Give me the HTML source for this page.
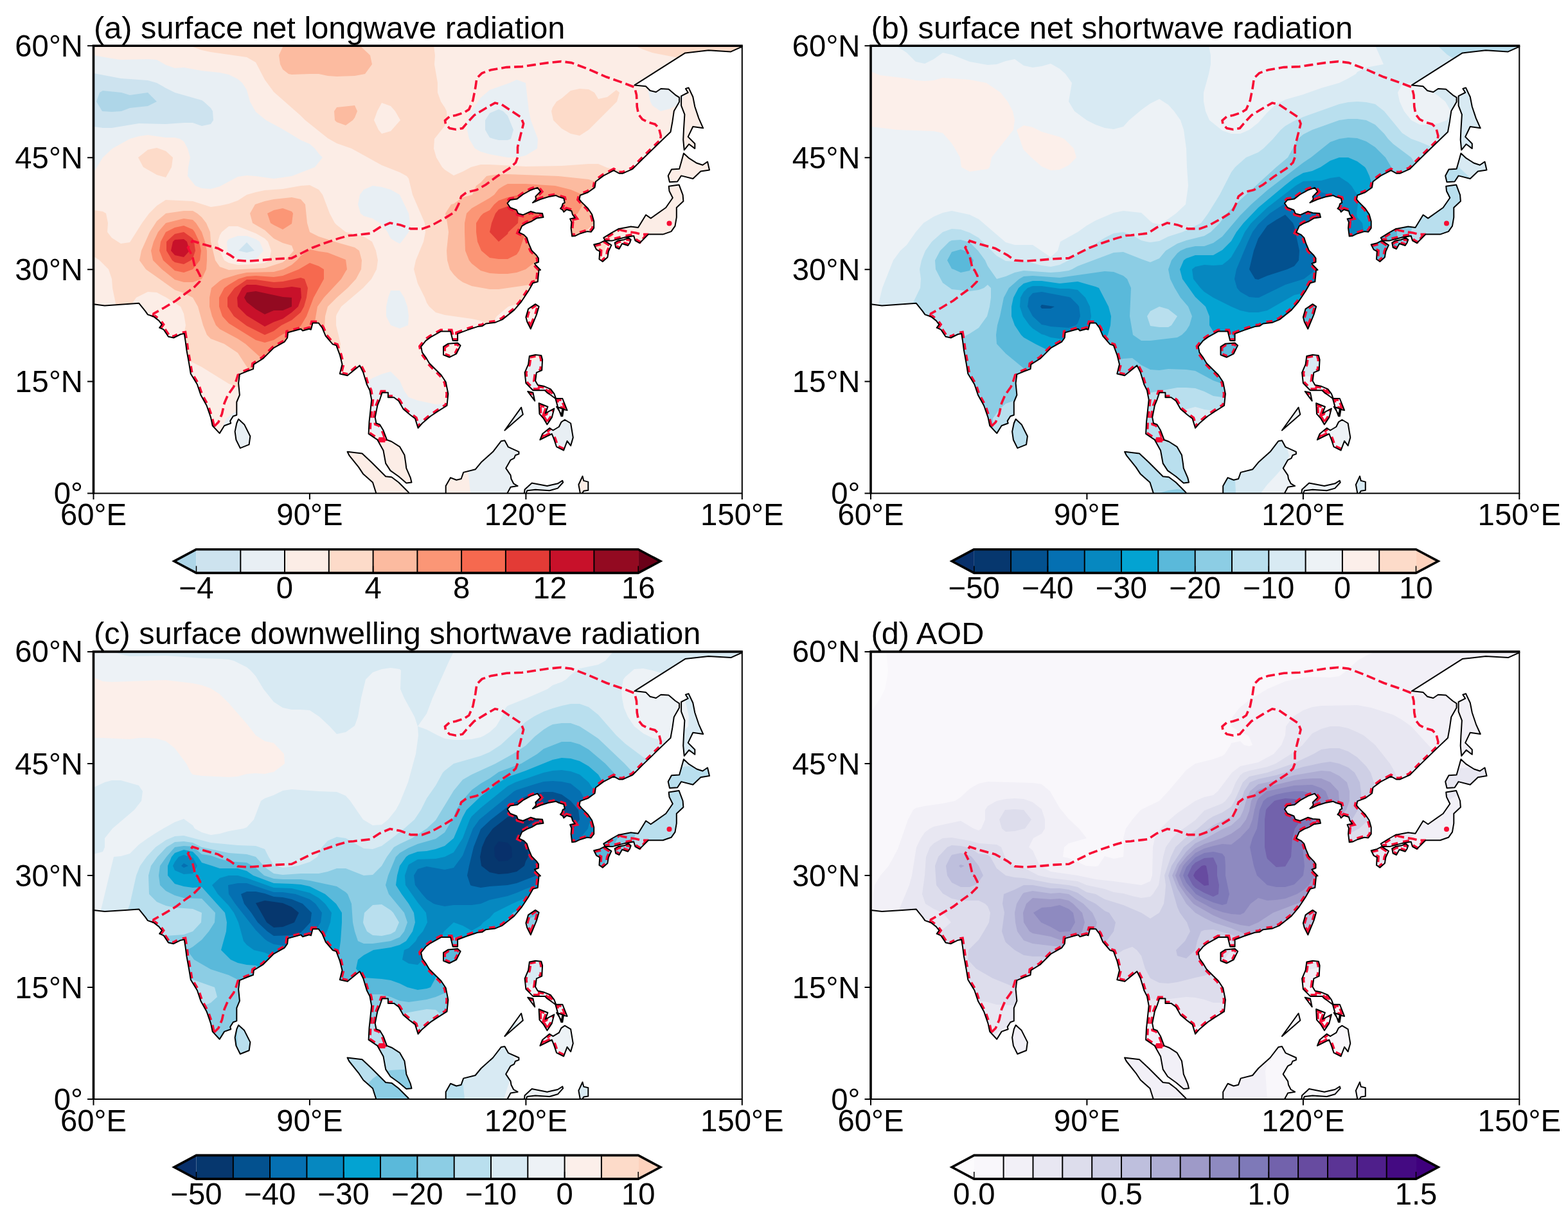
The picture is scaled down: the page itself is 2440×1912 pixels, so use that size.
<!DOCTYPE html>
<html><head><meta charset="utf-8"><title>Surface radiation and AOD maps</title>
<style>
html,body{margin:0;padding:0;background:#fff;width:2440px;height:1912px;overflow:hidden}
svg{display:block}
.tl{font-family:'Liberation Sans', Arial, Helvetica, sans-serif;font-size:47.3px;fill:#000}
.tt{font-family:'Liberation Sans', Arial, Helvetica, sans-serif;font-size:48.7px;fill:#000}
</style></head><body>
<svg xmlns="http://www.w3.org/2000/svg" width="2440" height="1912" viewBox="0 0 2440 1912">
<rect width="2440" height="1912" fill="#fff"/>
<clipPath id="fra"><rect x="145.5" y="71.2" width="1009.3" height="696.2"/></clipPath>
<clipPath id="lda"><path d="M145.5 473.2 L162.9 475.4 L195 473.2 L216.1 471.7 L226.2 484.2 L229.9 489.4 L239 492.5 L247.3 498.9 L251.9 504.8 L248.2 509.9 L254.6 512.7 L262 523.7 L270.2 525.5 L281.2 520 L286.7 519.1 L288.5 530.1 L290.4 544.8 L294.1 565 L296.8 581.5 L306.9 598 L312.4 614.5 L321.6 631 L328 649.4 L330.7 662.2 L341.7 674.1 L349.1 662.2 L359.2 658.5 L358.2 654.9 L362.8 647.5 L368.3 645.7 L368.3 625.5 L372.9 614.5 L371.1 596.1 L372.9 582.4 L383.9 577.8 L394 574.1 L394.9 566.8 L409.6 557.6 L426.1 541.1 L442.6 531.9 L447.2 525.5 L448.1 517.2 L468.3 511.7 L471 514.5 L481.1 511.7 L483.9 512.7 L486.6 502.6 L495.8 502.6 L501.3 509.9 L506.8 522.8 L517.8 535.6 L523.3 537.4 L528.8 552.1 L532.5 566.8 L528.8 581.5 L540.6 584.2 L559.8 568.6 L565.3 579.6 L570.8 598 L575.4 607.2 L578.2 621.8 L576.3 640.2 L574.5 656.7 L573.6 675 L587.3 684.2 L596.5 700.7 L600.2 720.9 L607.5 732.1 L620.4 741.3 L632.3 751.4 L640.5 750.5 L638.7 743.1 L632.3 728.4 L631.4 720.9 L629.5 708.1 L622.2 695.2 L609.4 687 L602 684.2 L596.5 669.5 L591 660.4 L585.5 658.5 L583.7 649.4 L587.3 631 L591 621.8 L594.7 610.8 L603.9 610.8 L603.9 618.2 L613 618.2 L620.4 623.7 L627.7 636.5 L638.7 645.7 L646 651.2 L650.6 665.9 L657 658.5 L669.9 647.5 L680.9 640.2 L695.5 631 L697.4 612.7 L693.7 594.3 L686.4 583.3 L679 576 L668 565 L662.5 555.8 L657 548.4 L655.2 539.3 L662.5 530.1 L669.9 524.6 L686.4 515.4 L701.1 515.4 L704.7 530.1 L712.1 530.1 L712.1 519.1 L726.7 513.6 L743.2 508.1 L750.6 507.2 L756.1 503.5 L770.7 501.7 L781.7 497.1 L800.1 482.4 L811.1 469.5 L822.1 453 L829.4 440.2 L836.8 438.3 L838.6 420 L841 419.9 L834.9 413.8 L831.9 410 L838 407.8 L838 401.7 L834.9 397.2 L827.4 389.6 L822.8 379 L819.8 369.9 L815.3 365.4 L807.7 361.6 L812.2 351.7 L819.8 347.2 L827.4 344.2 L834.9 339.6 L845.5 338.1 L844 332.1 L833.4 331.3 L825.9 329 L813.7 334.3 L806.2 332.1 L803.9 326.8 L794.1 323 L789.5 316.2 L794.1 310.9 L804.7 309.4 L813.7 302.5 L825.9 295.7 L836.4 291.9 L841 298 L833.4 305.6 L834.2 310.1 L828.9 315.4 L841 310.1 L853.1 306.3 L865.2 304.1 L869.7 306.3 L877.3 308.6 L878.8 315.4 L875.8 316.9 L874.3 321.5 L872 324.5 L875.8 326.8 L877.3 329.8 L881.8 326 L889.4 328.3 L890.9 333.6 L894.7 338.9 L887.1 340.4 L889.4 345.7 L888.6 354.8 L890.2 367.6 L895.4 366.9 L901.5 363.9 L913.6 360.1 L919.7 360.8 L924.2 354.8 L924.2 344.2 L921.2 333.6 L915.1 324.5 L904.5 313.9 L901.5 310.1 L902.8 303.7 L914.9 299.2 L925.5 291.6 L927 282.5 L939.1 273.4 L955 265.1 L963.3 269.7 L969.4 269.7 L984.5 262.8 L1001.1 246.2 L1026.9 221.2 L1043.5 205.3 L1046.5 188.7 L1048.8 172.8 L1057.1 158.4 L1057.1 151.6 L1051.1 147.8 L1040.5 138.7 L1028.4 138 L1020.8 143.3 L1011.7 141 L1004.9 134.2 L987.5 132.4 L1066.2 82.4 L1102.5 78.2 L1137.3 80.4 L1152.4 73.6 L1157 73.3 L1166 59.6 L134.3 59.6 L134.3 473.3Z M371.1 652.1 L380.2 660.4 L389.4 678.7 L387.6 691.6 L373.8 697.1 L367.4 684.2 L365.6 671.4 L368.3 658.5Z M690 539.3 L697.4 534.7 L712.1 533.4 L716.6 537.4 L710.2 550.3 L699.2 555.8 L690 552.1Z M818.4 493.4 L822.1 480.6 L833.1 473.2 L838.6 476.9 L834.9 489.7 L825.8 511.7 L820.3 500.7Z M823.9 553.9 L833.1 552.1 L842.3 553 L844.1 559.4 L843.2 576 L834.9 579.6 L833.1 592.5 L836.8 598.9 L845.9 600.7 L856.9 605.3 L862.4 612.7 L865.2 620 L875.3 620 L882.6 638.3 L875.3 636.5 L873.4 647.5 L867.9 632.8 L864.3 620 L856.9 614.5 L851.4 610.8 L847.8 607.2 L829.4 607.2 L823.9 601.7 L818.4 596.1 L816.6 579.6 L822.1 566.8Z M821.2 609 L829.4 610.8 L832.2 623.7Z M785.4 669.5 L811.1 633.8 L813.8 644.8Z M838.6 627.3 L852.4 632.8 L848.7 642.9 L862.4 635.6 L858.8 649.4 L851.4 660.4 L845.9 651.2 L839.5 643.9Z M866.1 632.8 L875.3 647.5 L877.1 636.5Z M840.4 684.2 L844.1 675 L855.1 665.9 L860.6 669.5 L869.8 664 L873.4 656.7 L878.9 653 L888.1 658.5 L891.8 680.6 L888.1 693.4 L882.6 686.1 L877.1 700.7 L866.1 695.2 L862.4 684.2 L858.8 675 L851.4 678.7Z M540.6 702.8 L563.5 705.5 L578.2 719.3 L600.2 741.3 L609.4 742.2 L620.4 750.5 L635.9 766.1 L635.9 767.9 L585.5 767.9 L580 750.5 L565.3 737.6 L558 726.6 L543.3 708.3Z M693.7 767.9 L693.7 756 L701.1 743.1 L710.2 746.8 L717.6 745 L721.2 734.9 L739.6 730.3 L748.7 719.3 L767.1 702.8 L779.9 686.2 L785.4 685.3 L790.9 695.4 L807.4 702.8 L807.4 706.4 L801.9 708.3 L800.1 712.8 L794.6 715.6 L787.2 728.4 L794.6 739.4 L795.5 745 L799.2 752.3 L805.6 756 L794.6 757.8 L789.1 767.9Z M815.7 767.9 L816.6 761.5 L827.6 751.4 L851.4 756 L867.9 752.3 L875.3 747.7 L876.2 750.5 L867.9 759.6 L855.1 763.3 L833.1 761.8 L820.3 763.3 L818.4 767.9Z M903 768.1 L900.4 754 L906.5 740.8 L908.3 747.9 L915.3 749.6 L915.3 762.8 L908.3 763.7 L905.7 768.1Z M1066.9 138 L1071.5 136.4 L1078.3 150.8 L1081.3 166 L1087.4 184.1 L1094.2 199.3 L1078.3 197 L1070.7 212.9 L1081.3 223.5 L1081.3 231.1 L1072.2 224.2 L1064.7 233.3 L1063.2 217.4 L1063.9 202.3 L1065.4 178.1 L1060.1 164.4 L1060.1 149.3 L1070.7 144Z M1063.9 238.6 L1072.2 246.2 L1084.3 253.8 L1093.4 256.8 L1101 251.5 L1104 264.4 L1090.4 266.6 L1078.3 278 L1060.1 273.4 L1054.1 282.5 L1042 283.3 L1039.7 273.4 L1045 263.6 L1057.1 262.8 L1060.1 252.2Z M1040.7 289.7 L1056.6 287.4 L1062.6 303.3 L1063.4 313.1 L1052.8 323 L1052.8 338.1 L1050.5 351.7 L1044.5 360.1 L1031.6 364.6 L1008.9 364.6 L995.3 378.2 L988.5 374.4 L986.2 366.9 L972.6 369.2 L952.9 374.4 L941.6 374.4 L939.3 369.9 L951.4 362.3 L962 356.3 L981.7 352.5 L993 354 L1005.1 334.3 L1012.7 339.6 L1036.2 323 L1046.8 307.8 L1041.5 297.2Z M924.2 380.5 L933.3 378.2 L940.8 374.4 L951.4 381.3 L946.9 391.1 L945.4 400.2 L937.8 407 L932.5 403.2 L933.3 391.1 L928 388.1Z M956.7 377.5 L962 374.4 L971.1 372.9 L977.9 369.9 L981.7 372.9 L980.2 377.5 L977.2 382 L968.1 379 L963.5 387.3 L958.2 385Z"/></clipPath>
<g clip-path="url(#fra)">
<g clip-path="url(#lda)" fill-rule="evenodd">
<rect x="145.5" y="71.2" width="1009.3" height="696.2" fill="#aed6e8"/>
<path fill="#cde3ef" d="M131 796l1052 0 0-754-1066 0 0 754 14 0zM159 173l-9-15 5-14 5-3 29 3 13 4 28-4 14 14-14 7-28 3-13 5-15 1-15-1z"/>
<path fill="#e8eff4" d="M131 796l1052 0 0-754-1066 0 0 72 29 0 42 8 42 3 14 4 14 8 14 7 42 12 3 2 11 10 3 5 1 14-4 6-14 3-14-5-14 0-28 2-42-1-42 7-14 0-14-2-29 0 0 599 14 0zM371 390l13-13 12 13-12 3-13-3zM768 216l-6-2-7-12 0-15 7-11 14-6 7 3 7 7 9 22-4 14-5 2-14 0-8-2z"/>
<path fill="#fcede6" d="M131 796l217 0 0-29 6-29-2-14-6-29-2-15 2-14 6-15 4-3 14-10 14-1 28 3 14 4 14-3 14 7 2 3 3 15-2 14-3 6-28 23-9 15-2 14 3 29 0 29 314 0 0-29-3-29-4-14-7-15-12-12-14-6-28-5-28 3-14 0-28-6-14-11-6-6-9-15-4-14 5-15 0-14 6-15 8-5 14-6 14-4 14 14 7 16 7 10 14 5 28 6 14-1 14-3 14-1 11-2 3-2 2-12 6-15 20-14 14-3 14 1 14-3 14-8 14-5 14-7 14 2 14 8 14 11 14 3 57 2 42 0 14 6 28 14 14 4 42 5 28 0 14 2 42 0 0-569-1066 0 0 44 29 0 28 5 14 2 42-1 14 1 14 8 14 5 14-1 28 5 28 3 14 3 14 7 7 6 7 11 5 18 9 16 16 13 26 14 28 17 14 6 8 7 6 8 6 6-12 15-36 14-28 4-28-4-14-1-14 2-28 15-14 4-14-1-10-4-12-15 1-14 3-15-4-14-6-11-6-4-8-2-14 0-28-4-14 2-14 4-27 15-15 14-14 23-29 0 0 528 14 0zM608 506l-7-14 0-15 3-14 4-11 14 0 7 11 5 14 2 15-1 14-13 5-14-5zM354 390l-1-14 3-4 14-5 14 0 14 5 6 4 6 14-12 14-14 0-14-1-14-10-2-3zM616 376l-8-5-5-10-9-12-14-9-14-4-5-4-4-14 3-15 6-8 14-6 14 2 14 4 14 8 14 29 2 15-2 14-11 15-3 3-6-3zM739 231l-9-15-3-14 0-15 6-14 11-15 4-6 14-12 14-5 17-6 11-5 14 5 5 44 3 14 11 29-1 15-18 11-14 3-14 0-28-5-14-4-9-5zM1028 173l-13-9-3-6-3-14-2-15 6-14 2-1 14-2 16 3 18 14 3 15-5 14-4 4-14 7-15 4zM902 796l281 0 0-120-28 0-14-2-28 2-14-1-14 2-14 0-14-2-28 3-28-2-14 0-28 3-14 4-14 7-15 14-17 34-4 15-1 43 8 0z"/>
<path fill="#fddbc9" d="M426 623l14-6 12-9 14-15 2-6 10-8 18-4 14 0 14-7 2-4 4-14 0-15-7-29 0-14 1-3 7-12 34-29 13-14 8-15 2-14-3-15-6-14-13-8-28-7-14-11-3-3-8-15-11-29-6-8-14-7-14 1-28 5-28 2-14 3-14 4-14 9-14 5-14 3-14 2-28-9-42-2-14 9-12 12-11 15-19 30-14 2-14-9-7-9 1-14-3-15-5-3-14-2-29 0 0 72 29 0 9 6 14 14 5 15 1 14 6 29 7 10 14-10 10-14 18-9 14 1 15 8 22 14 5 11 3 18-3 15-14 12-14 2-14 0-14-1-14-3-14 4 14 9 4 6 35 14 3 1 14-7 14-1 28 14 42 26 56 22 14 4zM349 405l-7-15-3-14 3-10 3-5 11-9 14 0 28 11 14 8 5 5 5 14-3 15-7 4-14 2-28 1-14-3-7-4zM945 538l14 0 20-3 18-14 0-15-10-11-14-10-14-7-5-1-9-6-14 6-11 29-1 15 12 14 14 3zM762 511l2-5 9-14 18-15 13-4 28-6 28-1 28 3 28 5 13-11 0-29 2-15 3-14 11-27 13-17 15-8 6-6 21-29 2-15-3-14-11-15-15-8-28-5-14-6-15 0-42 3-56 1-56-3-14 0-15 4-13 7-14 6-14-9-4-4-9-15-4-14 1-15 16-20 4-9-1-14-3-6-6-9-5-14 0-15-5-29 1-14-2-15 0-29-380 0 0 29 19 7 14 3 56 8 14 8 14 27 14 19 42 37 7 7 35 28 14 8 23 8 47 26 28 11 11 6 3 4 6 25 19 44 1 14-3 15-12 29-3 14 6 22 11 22 3 8 4 6 10 9 14 4 42 6 14 3 12 7 2 5zM589 202l-7-15 5-14 7-13 14 5 7 8 8 14-15 17-14 4-5-6zM258 276l9-16 2-15-11-10-14-5-5 1-9 2-15 12 8 15 21 12 14 4zM888 208l14 3 14-9 44-44 4-14-5-4-14 11-14 3-6-10-9-5-14-1-14 3-14 12-8 5-6 9-2 6 3 14 13 13 14 8zM1141 152l14 5 28 0 0-115-196 0 0 29 14 6 14 5 56 11 14-1 14-3 14 3 6 8 16 44 6 8z"/>
<path fill="#fcbba0" d="M412 600l14 3 16-10 1-29 11-7 28-2 15-5 7-15 2-43 4-15 14-14 17-15 13-14 8-15 1-14-4-15-7-5-28-8-28-9-14-7-4-14-3-29-7-8-14-3-28 3-14 3-15 5-8 14 4 15 19 11 14 13 14 7 14 4 3 8-13 15-4 3-28 9-56 3-14-5-7-10-7-29-1-15-6-14-7-9-7-6-7-4-14 0-28 4-14 12-11 17-13 29-3 15 10 14 31 22 14 10 14 5 14 7 8 14 8 29 6 15 6 6 21 8 21 14 28 43 14 8zM762 450l14 0 42-6 42-8 14-5 14-14 6-12 9-29 7-15 21-20 12-9 2-2 6-12-1-15-12-14-7-5-15-5-47-5-79-3-14 0-14 2-5 1-9 10-7 5-6 14-15 4-14 10-4 1-9 14 3 15 2 14-3 29 1 15 4 14 6 8 7 7 7 5 14 6 28 5zM524 190l14 5 11-8 3-4 4-10-4-9-28 3-4 6 1 14 3 3zM454 116l28-1 14 0 14 3 14 1 28-1 16-3 11-15-3-14-16-15 0-29-118 0 0 29-2 2-6 13 2 14 4 8 9 7 5 1z"/>
<path fill="#fb9676" d="M412 562l10-12 18-11 28-5 14-8 3-5 4-15 5-29 10-14 27-29 7-12 2-3-2-15-28-11-14-2-14-3-14 10-6 7-8 7-13 7-15 4-42 1-14 3-23 7-5 3-13 11-3 15 0 14 4 15 6 14 6 6 28 15 12 8 30 27zM272 435l14 4 14 0 14-5 7-15 1-14 0-15-3-14-5-15-9-14-5-5-14-2-28 7-12 14-7 15-4 14 3 15 14 14 20 16zM748 421l14 4 14 1 14 0 14-2 14-5 18-14 12-29 11-15 40-29 8-14 0-15-19-8-24-6-46-3-28 0-6 3-8 5-7 9-7 5-28 16-8 8-3 15 0 14 1 29 6 15 4 5 14 11zM426 350l14 7 14-9 2-16-2-3-14-5-14 3-10 5 5 15 5 3z"/>
<path fill="#f6694f" d="M398 529l14 4 14-4 14-9 14-5 14-8 9-15 11-29 16-29 0-15-8-5-14-5-17 10-25 10-14 2-28-2-14 1-13 4-15 9-7 5-8 15 0 14 5 15 10 11 42 26zM272 421l14 3 14-5 11-14 2-15-3-14-7-15-3-4-14-6-14 3-14 7-8 15-2 14 6 15 18 16zM762 401l14 2 14 0 14-7 4-6 10-29 14-21 7-8 7-14-14-12-14-3-14 1-14 3-14 5-7 6-7 9-10 5-4 4-7 11 0 14 2 15 6 14 13 11z"/>
<path fill="#e33b36" d="M412 521l14-6 12-9 16-8 14-12 5-9 4-14 2-15-5-14-6-2-28 6-14 1-28-4-14 0-19 13-9 12-2 3 0 14 10 15 20 15 28 14zM272 408l14 3 11-6 3-3 4-12-2-14-2-5-14-10-14 3-13 12 0 14 9 15 4 3zM776 376l14-12 1-3 15-14 1-15-3-6-14-5-14 5-5 6-6 15-3 14 14 15z"/>
<path fill="#c8112a" d="M412 508l14-7 14-5 14-10 10-9 5-14-1-15-14-2-14 2-14 0-28-5-14 0-7 5-8 15 1 14 14 14 28 17zM272 397l14 3 9-10-4-14-5-4-14 1-3 3-3 14 6 7z"/>
<path fill="#930a21" d="M398 481l14 8 14-6 14 0 14-6 0-14-14-1-42-9-14 2-4 8 4 7 14 11z"/>
</g>
<path d="M239 492.5 L238.1 491.6 L239 487.9 L255.5 478.7 L273.9 467.7 L288.5 456.7 L301.4 447.5 L310.6 438.3 L311.5 429.2 L306.9 420 L304.2 419.1 L299.5 399.2 L292.5 385.2 L299.5 374.7 L313.5 379.3 L339.3 386.4 L358 396.9 L369.7 405.1 L386 406.2 L411.7 404.4 L430.5 402.7 L453.8 401.6 L467.9 394.5 L486.6 385.2 L505.3 378.2 L526.3 371.1 L542.7 366.5 L550.3 366 L576.5 363 L590.6 353.9 L606.8 346.8 L622.9 349.9 L639.1 355.9 L657.2 355.9 L671.3 350.9 L691.5 339.8 L707.7 329.7 L713.7 317.6 L717.7 305.5 L725.8 299.4 L741.9 295.4 L756.1 287.3 L772.2 275.2 L792.4 262.1 L802.5 253 L805.5 244.9 L805.5 228.8 L810.5 208.6 L814.6 192.4 L810.5 182.3 L798.4 174.3 L780.3 162.2 L770.2 160.1 L756.1 168.2 L737.9 179.3 L725.8 192.4 L719.8 199.5 L709.7 201.5 L699.6 199.5 L693.5 193.4 L692.5 187.4 L699.6 181.3 L709.7 179.3 L721.8 175.3 L729.8 170.2 L735.9 156.1 L739.9 135.9 L741.9 121.8 L750 113.7 L764.1 108.7 L788.3 104.6 L812.6 103.6 L832.7 100.6 L852.9 97.6 L873.1 95.6 L889.2 97.6 L913.4 106.7 L943.7 119.8 L969.9 128.9 L987.5 135.7 L990.5 147.8 L991.3 166 L993.6 178.1 L999.6 185.6 L1008.7 190.2 L1019.3 193.2 L1025.3 199.3 L1028.4 211.4 L1026.9 221.2 M372.9 582.4 L370.2 583.3 L367.4 592.5 L363.7 601.7 L354.6 614.5 L349.1 627.3 L345.4 643.9 L339.9 656.7 L334.4 662.2 L330.7 662.2 M602 684.2 L587.3 684.2 M962 356.3 L968.1 358.6 L980.2 360.8 L989.3 362.3 L998.3 364.6 L1005.9 364.6 L995.3 378.2" fill="none" stroke="#f70c34" stroke-width="3.6" stroke-dasharray="14 6"/>
<path clip-path="url(#lda)" d="M1026.9 221.2 L1001.1 246.2 L984.5 262.8 L969.4 269.7 L963.3 269.7 L955 265.1 L939.1 273.4 L927 282.5 L925.5 291.6 L914.9 299.2 L902.8 303.7 L901.3 310.1 L904.5 313.9 L915.1 324.5 L921.2 333.6 L924.2 344.2 L924.2 354.8 L919.7 360.8 L913.6 360.1 L901.5 363.9 L895.4 366.9 L890.2 367.6 L888.6 354.8 L889.4 345.7 L887.1 340.4 L894.7 338.9 L890.9 333.6 L889.4 328.3 L881.8 326 L877.3 329.8 L875.8 326.8 L872 324.5 L874.3 321.5 L875.8 316.9 L878.8 315.4 L877.3 308.6 L869.7 306.3 L865.2 304.1 L853.1 306.3 L841 310.1 L828.9 315.4 L834.2 310.1 L833.4 305.6 L841 298 L836.4 291.9 L825.9 295.7 L813.7 302.5 L804.7 309.4 L794.1 310.9 L789.5 316.2 L794.1 323 L803.9 326.8 L806.2 332.1 L813.7 334.3 L825.9 329 L833.4 331.3 L844 332.1 L845.5 338.1 L834.9 339.6 L827.4 344.2 L819.8 347.2 L812.2 351.7 L807.7 361.6 L815.3 365.4 L819.8 369.9 L822.8 379 L827.4 389.6 L834.9 397.2 L838 401.7 L838 407.8 L831.9 410 L834.9 413.8 L841 419.9 L838.6 420 L836.8 438.3 L829.4 440.2 L822.1 453 L811.1 469.5 L800.1 482.4 L781.7 497.1 L770.7 501.7 L756.1 503.5 L750.6 507.2 L743.2 508.1 L726.7 513.6 L712.1 519.1 L712.1 530.1 L704.7 530.1 L701.1 515.4 L686.4 515.4 L669.9 524.6 L662.5 530.1 L655.2 539.3 L657 548.4 L662.5 555.8 L668 565 L679 576 L686.4 583.3 L693.7 594.3 L697.4 612.7 L695.5 631 L680.9 640.2 L669.9 647.5 L657 658.5 L650.6 665.9 L646 651.2 L638.7 645.7 L627.7 636.5 L620.4 623.7 L613 618.2 L603.9 618.2 L603.9 610.8 L594.7 610.8 L591 621.8 L587.3 631 L583.7 649.4 L585.5 658.5 L591 660.4 L596.5 669.5 L602 684.2 L587.3 684.2 L573.6 675 L574.5 656.7 L576.3 640.2 L578.2 621.8 L575.4 607.2 L570.8 598 L565.3 579.6 L559.8 568.6 L540.6 584.2 L528.8 581.5 L532.5 566.8 L528.8 552.1 L523.3 537.4 L517.8 535.6 L506.8 522.8 L501.3 509.9 L495.8 502.6 L486.6 502.6 L483.9 512.7 L481.1 511.7 L471 514.5 L468.3 511.7 L448.1 517.2 L447.2 525.5 L442.6 531.9 L426.1 541.1 L409.6 557.6 L394.9 566.8 L394 574.1 L383.9 577.8 L372.9 582.4 M330.7 662.2 L328 649.4 L321.6 631 L312.4 614.5 L306.9 598 L296.8 581.5 L294.1 565 L290.4 544.8 L288.5 530.1 L286.7 519.1 L281.2 520 L270.2 525.5 L262 523.7 L254.6 512.7 L248.2 509.9 L251.9 504.8 L247.3 498.9 L239 492.5 M995.3 378.2 L988.5 374.4 L986.2 366.9 L972.6 369.2 L952.9 374.4 L941.6 374.4 L939.3 369.9 L939.3 369.9 L951.4 362.3 L962 356.3 M924.2 380.5 L933.3 378.2 L940.8 374.4 L951.4 381.3 L946.9 391.1 L945.4 400.2 L937.8 407 L932.5 403.2 L933.3 391.1 L928 388.1Z M956.7 377.5 L962 374.4 L971.1 372.9 L977.9 369.9 L981.7 372.9 L980.2 377.5 L977.2 382 L968.1 379 L963.5 387.3 L958.2 385Z M690 539.3 L697.4 534.7 L712.1 533.4 L716.6 537.4 L710.2 550.3 L699.2 555.8 L690 552.1Z M818.4 493.4 L822.1 480.6 L833.1 473.2 L838.6 476.9 L834.9 489.7 L825.8 511.7 L820.3 500.7Z M823.9 553.9 L833.1 552.1 L842.3 553 L844.1 559.4 L843.2 576 L834.9 579.6 L833.1 592.5 L836.8 598.9 L845.9 600.7 L856.9 605.3 L862.4 612.7 L865.2 620 L875.3 620 L882.6 638.3 L875.3 636.5 L873.4 647.5 L867.9 632.8 L864.3 620 L856.9 614.5 L851.4 610.8 L847.8 607.2 L829.4 607.2 L823.9 601.7 L818.4 596.1 L816.6 579.6 L822.1 566.8Z M821.2 609 L829.4 610.8 L832.2 623.7Z M838.6 627.3 L852.4 632.8 L848.7 642.9 L862.4 635.6 L858.8 649.4 L851.4 660.4 L845.9 651.2 L839.5 643.9Z M877.1 700.7 L866.1 695.2 L862.4 684.2 L858.8 675 L851.4 678.7 L840.4 684.2 L844.1 675 L855.1 665.9" fill="none" stroke="#f70c34" stroke-width="8" stroke-dasharray="10 8"/>
<circle cx="1041.5" cy="347.4" r="4" fill="#f70c34"/>
<path d="M145.5 473.2 L162.9 475.4 L195 473.2 L216.1 471.7 L226.2 484.2 L229.9 489.4 L239 492.5 L247.3 498.9 L251.9 504.8 L248.2 509.9 L254.6 512.7 L262 523.7 L270.2 525.5 L281.2 520 L286.7 519.1 L288.5 530.1 L290.4 544.8 L294.1 565 L296.8 581.5 L306.9 598 L312.4 614.5 L321.6 631 L328 649.4 L330.7 662.2 L341.7 674.1 L349.1 662.2 L359.2 658.5 L358.2 654.9 L362.8 647.5 L368.3 645.7 L368.3 625.5 L372.9 614.5 L371.1 596.1 L372.9 582.4 L383.9 577.8 L394 574.1 L394.9 566.8 L409.6 557.6 L426.1 541.1 L442.6 531.9 L447.2 525.5 L448.1 517.2 L468.3 511.7 L471 514.5 L481.1 511.7 L483.9 512.7 L486.6 502.6 L495.8 502.6 L501.3 509.9 L506.8 522.8 L517.8 535.6 L523.3 537.4 L528.8 552.1 L532.5 566.8 L528.8 581.5 L540.6 584.2 L559.8 568.6 L565.3 579.6 L570.8 598 L575.4 607.2 L578.2 621.8 L576.3 640.2 L574.5 656.7 L573.6 675 L587.3 684.2 L596.5 700.7 L600.2 720.9 L607.5 732.1 L620.4 741.3 L632.3 751.4 L640.5 750.5 L638.7 743.1 L632.3 728.4 L631.4 720.9 L629.5 708.1 L622.2 695.2 L609.4 687 L602 684.2 L596.5 669.5 L591 660.4 L585.5 658.5 L583.7 649.4 L587.3 631 L591 621.8 L594.7 610.8 L603.9 610.8 L603.9 618.2 L613 618.2 L620.4 623.7 L627.7 636.5 L638.7 645.7 L646 651.2 L650.6 665.9 L657 658.5 L669.9 647.5 L680.9 640.2 L695.5 631 L697.4 612.7 L693.7 594.3 L686.4 583.3 L679 576 L668 565 L662.5 555.8 L657 548.4 L655.2 539.3 L662.5 530.1 L669.9 524.6 L686.4 515.4 L701.1 515.4 L704.7 530.1 L712.1 530.1 L712.1 519.1 L726.7 513.6 L743.2 508.1 L750.6 507.2 L756.1 503.5 L770.7 501.7 L781.7 497.1 L800.1 482.4 L811.1 469.5 L822.1 453 L829.4 440.2 L836.8 438.3 L838.6 420 L841 419.9 L834.9 413.8 L831.9 410 L838 407.8 L838 401.7 L834.9 397.2 L827.4 389.6 L822.8 379 L819.8 369.9 L815.3 365.4 L807.7 361.6 L812.2 351.7 L819.8 347.2 L827.4 344.2 L834.9 339.6 L845.5 338.1 L844 332.1 L833.4 331.3 L825.9 329 L813.7 334.3 L806.2 332.1 L803.9 326.8 L794.1 323 L789.5 316.2 L794.1 310.9 L804.7 309.4 L813.7 302.5 L825.9 295.7 L836.4 291.9 L841 298 L833.4 305.6 L834.2 310.1 L828.9 315.4 L841 310.1 L853.1 306.3 L865.2 304.1 L869.7 306.3 L877.3 308.6 L878.8 315.4 L875.8 316.9 L874.3 321.5 L872 324.5 L875.8 326.8 L877.3 329.8 L881.8 326 L889.4 328.3 L890.9 333.6 L894.7 338.9 L887.1 340.4 L889.4 345.7 L888.6 354.8 L890.2 367.6 L895.4 366.9 L901.5 363.9 L913.6 360.1 L919.7 360.8 L924.2 354.8 L924.2 344.2 L921.2 333.6 L915.1 324.5 L904.5 313.9 L901.5 310.1 L902.8 303.7 L914.9 299.2 L925.5 291.6 L927 282.5 L939.1 273.4 L955 265.1 L963.3 269.7 L969.4 269.7 L984.5 262.8 L1001.1 246.2 L1026.9 221.2 L1043.5 205.3 L1046.5 188.7 L1048.8 172.8 L1057.1 158.4 L1057.1 151.6 L1051.1 147.8 L1040.5 138.7 L1028.4 138 L1020.8 143.3 L1011.7 141 L1004.9 134.2 L987.5 132.4 L1066.2 82.4 L1102.5 78.2 L1137.3 80.4 L1152.4 73.6 L1157 73.3 M371.1 652.1 L380.2 660.4 L389.4 678.7 L387.6 691.6 L373.8 697.1 L367.4 684.2 L365.6 671.4 L368.3 658.5Z M690 539.3 L697.4 534.7 L712.1 533.4 L716.6 537.4 L710.2 550.3 L699.2 555.8 L690 552.1Z M818.4 493.4 L822.1 480.6 L833.1 473.2 L838.6 476.9 L834.9 489.7 L825.8 511.7 L820.3 500.7Z M823.9 553.9 L833.1 552.1 L842.3 553 L844.1 559.4 L843.2 576 L834.9 579.6 L833.1 592.5 L836.8 598.9 L845.9 600.7 L856.9 605.3 L862.4 612.7 L865.2 620 L875.3 620 L882.6 638.3 L875.3 636.5 L873.4 647.5 L867.9 632.8 L864.3 620 L856.9 614.5 L851.4 610.8 L847.8 607.2 L829.4 607.2 L823.9 601.7 L818.4 596.1 L816.6 579.6 L822.1 566.8Z M821.2 609 L829.4 610.8 L832.2 623.7Z M785.4 669.5 L811.1 633.8 L813.8 644.8Z M838.6 627.3 L852.4 632.8 L848.7 642.9 L862.4 635.6 L858.8 649.4 L851.4 660.4 L845.9 651.2 L839.5 643.9Z M866.1 632.8 L875.3 647.5 L877.1 636.5Z M840.4 684.2 L844.1 675 L855.1 665.9 L860.6 669.5 L869.8 664 L873.4 656.7 L878.9 653 L888.1 658.5 L891.8 680.6 L888.1 693.4 L882.6 686.1 L877.1 700.7 L866.1 695.2 L862.4 684.2 L858.8 675 L851.4 678.7Z M540.6 702.8 L563.5 705.5 L578.2 719.3 L600.2 741.3 L609.4 742.2 L620.4 750.5 L635.9 766.1 L635.9 767.9 L585.5 767.9 L580 750.5 L565.3 737.6 L558 726.6 L543.3 708.3Z M693.7 767.9 L693.7 756 L701.1 743.1 L710.2 746.8 L717.6 745 L721.2 734.9 L739.6 730.3 L748.7 719.3 L767.1 702.8 L779.9 686.2 L785.4 685.3 L790.9 695.4 L807.4 702.8 L807.4 706.4 L801.9 708.3 L800.1 712.8 L794.6 715.6 L787.2 728.4 L794.6 739.4 L795.5 745 L799.2 752.3 L805.6 756 L794.6 757.8 L789.1 767.9Z M815.7 767.9 L816.6 761.5 L827.6 751.4 L851.4 756 L867.9 752.3 L875.3 747.7 L876.2 750.5 L867.9 759.6 L855.1 763.3 L833.1 761.8 L820.3 763.3 L818.4 767.9Z M903 768.1 L900.4 754 L906.5 740.8 L908.3 747.9 L915.3 749.6 L915.3 762.8 L908.3 763.7 L905.7 768.1Z M1066.9 138 L1071.5 136.4 L1078.3 150.8 L1081.3 166 L1087.4 184.1 L1094.2 199.3 L1078.3 197 L1070.7 212.9 L1081.3 223.5 L1081.3 231.1 L1072.2 224.2 L1064.7 233.3 L1063.2 217.4 L1063.9 202.3 L1065.4 178.1 L1060.1 164.4 L1060.1 149.3 L1070.7 144Z M1063.9 238.6 L1072.2 246.2 L1084.3 253.8 L1093.4 256.8 L1101 251.5 L1104 264.4 L1090.4 266.6 L1078.3 278 L1060.1 273.4 L1054.1 282.5 L1042 283.3 L1039.7 273.4 L1045 263.6 L1057.1 262.8 L1060.1 252.2Z M1040.7 289.7 L1056.6 287.4 L1062.6 303.3 L1063.4 313.1 L1052.8 323 L1052.8 338.1 L1050.5 351.7 L1044.5 360.1 L1031.6 364.6 L1008.9 364.6 L995.3 378.2 L988.5 374.4 L986.2 366.9 L972.6 369.2 L952.9 374.4 L941.6 374.4 L939.3 369.9 L951.4 362.3 L962 356.3 L981.7 352.5 L993 354 L1005.1 334.3 L1012.7 339.6 L1036.2 323 L1046.8 307.8 L1041.5 297.2Z M924.2 380.5 L933.3 378.2 L940.8 374.4 L951.4 381.3 L946.9 391.1 L945.4 400.2 L937.8 407 L932.5 403.2 L933.3 391.1 L928 388.1Z M956.7 377.5 L962 374.4 L971.1 372.9 L977.9 369.9 L981.7 372.9 L980.2 377.5 L977.2 382 L968.1 379 L963.5 387.3 L958.2 385Z" fill="none" stroke="#000" stroke-width="2" stroke-linejoin="round"/>
</g>
<path d="M145.5 767.4H1154.8V71.2" fill="none" stroke="#000" stroke-width="2"/>
<path d="M145.5 768.4V71.2H1155.8" fill="none" stroke="#000" stroke-width="3.6"/>
<text x="129" y="87.7" text-anchor="end" class="tl">60°N</text>
<text x="129" y="261.8" text-anchor="end" class="tl">45°N</text>
<text x="129" y="435.8" text-anchor="end" class="tl">30°N</text>
<text x="129" y="609.9" text-anchor="end" class="tl">15°N</text>
<text x="129" y="783.9" text-anchor="end" class="tl">0°</text>
<text x="145.5" y="816.9" text-anchor="middle" class="tl">60°E</text>
<text x="481.9" y="816.9" text-anchor="middle" class="tl">90°E</text>
<text x="818.4" y="816.9" text-anchor="middle" class="tl">120°E</text>
<text x="1154.8" y="816.9" text-anchor="middle" class="tl">150°E</text>
<path d="M136 71.2H145.5 M136 245.2H145.5 M136 419.3H145.5 M136 593.4H145.5 M136 767.4H145.5 M145.5 767.4V776.9 M481.9 767.4V776.9 M818.4 767.4V776.9 M1154.8 767.4V776.9" stroke="#000" stroke-width="2"/>
<text x="146" y="59.5" class="tt">(a) surface net longwave radiation</text>
<clipPath id="frb"><rect x="1355" y="71.2" width="1009.3" height="696.2"/></clipPath>
<clipPath id="ldb"><path d="M1355 473.2 L1372.4 475.4 L1404.5 473.2 L1425.6 471.7 L1435.7 484.2 L1439.4 489.4 L1448.5 492.5 L1456.8 498.9 L1461.4 504.8 L1457.7 509.9 L1464.1 512.7 L1471.5 523.7 L1479.7 525.5 L1490.7 520 L1496.2 519.1 L1498 530.1 L1499.9 544.8 L1503.6 565 L1506.3 581.5 L1516.4 598 L1521.9 614.5 L1531.1 631 L1537.5 649.4 L1540.2 662.2 L1551.2 674.1 L1558.6 662.2 L1568.7 658.5 L1567.7 654.9 L1572.3 647.5 L1577.8 645.7 L1577.8 625.5 L1582.4 614.5 L1580.6 596.1 L1582.4 582.4 L1593.4 577.8 L1603.5 574.1 L1604.4 566.8 L1619.1 557.6 L1635.6 541.1 L1652.1 531.9 L1656.7 525.5 L1657.6 517.2 L1677.8 511.7 L1680.5 514.5 L1690.6 511.7 L1693.4 512.7 L1696.1 502.6 L1705.3 502.6 L1710.8 509.9 L1716.3 522.8 L1727.3 535.6 L1732.8 537.4 L1738.3 552.1 L1742 566.8 L1738.3 581.5 L1750.1 584.2 L1769.3 568.6 L1774.8 579.6 L1780.3 598 L1784.9 607.2 L1787.7 621.8 L1785.8 640.2 L1784 656.7 L1783.1 675 L1796.8 684.2 L1806 700.7 L1809.7 720.9 L1817 732.1 L1829.9 741.3 L1841.8 751.4 L1850 750.5 L1848.2 743.1 L1841.8 728.4 L1840.9 720.9 L1839 708.1 L1831.7 695.2 L1818.9 687 L1811.5 684.2 L1806 669.5 L1800.5 660.4 L1795 658.5 L1793.2 649.4 L1796.8 631 L1800.5 621.8 L1804.2 610.8 L1813.4 610.8 L1813.4 618.2 L1822.5 618.2 L1829.9 623.7 L1837.2 636.5 L1848.2 645.7 L1855.5 651.2 L1860.1 665.9 L1866.5 658.5 L1879.4 647.5 L1890.4 640.2 L1905 631 L1906.9 612.7 L1903.2 594.3 L1895.9 583.3 L1888.5 576 L1877.5 565 L1872 555.8 L1866.5 548.4 L1864.7 539.3 L1872 530.1 L1879.4 524.6 L1895.9 515.4 L1910.6 515.4 L1914.2 530.1 L1921.6 530.1 L1921.6 519.1 L1936.2 513.6 L1952.7 508.1 L1960.1 507.2 L1965.6 503.5 L1980.2 501.7 L1991.2 497.1 L2009.6 482.4 L2020.6 469.5 L2031.6 453 L2038.9 440.2 L2046.3 438.3 L2048.1 420 L2050.5 419.9 L2044.4 413.8 L2041.4 410 L2047.5 407.8 L2047.5 401.7 L2044.4 397.2 L2036.9 389.6 L2032.3 379 L2029.3 369.9 L2024.8 365.4 L2017.2 361.6 L2021.7 351.7 L2029.3 347.2 L2036.9 344.2 L2044.4 339.6 L2055 338.1 L2053.5 332.1 L2042.9 331.3 L2035.4 329 L2023.2 334.3 L2015.7 332.1 L2013.4 326.8 L2003.6 323 L1999 316.2 L2003.6 310.9 L2014.2 309.4 L2023.2 302.5 L2035.4 295.7 L2045.9 291.9 L2050.5 298 L2042.9 305.6 L2043.7 310.1 L2038.4 315.4 L2050.5 310.1 L2062.6 306.3 L2074.7 304.1 L2079.2 306.3 L2086.8 308.6 L2088.3 315.4 L2085.3 316.9 L2083.8 321.5 L2081.5 324.5 L2085.3 326.8 L2086.8 329.8 L2091.3 326 L2098.9 328.3 L2100.4 333.6 L2104.2 338.9 L2096.6 340.4 L2098.9 345.7 L2098.1 354.8 L2099.7 367.6 L2104.9 366.9 L2111 363.9 L2123.1 360.1 L2129.2 360.8 L2133.7 354.8 L2133.7 344.2 L2130.7 333.6 L2124.6 324.5 L2114 313.9 L2111 310.1 L2112.3 303.7 L2124.4 299.2 L2135 291.6 L2136.5 282.5 L2148.6 273.4 L2164.5 265.1 L2172.8 269.7 L2178.9 269.7 L2194 262.8 L2210.6 246.2 L2236.4 221.2 L2253 205.3 L2256 188.7 L2258.3 172.8 L2266.6 158.4 L2266.6 151.6 L2260.6 147.8 L2250 138.7 L2237.9 138 L2230.3 143.3 L2221.2 141 L2214.4 134.2 L2197 132.4 L2275.7 82.4 L2312 78.2 L2346.8 80.4 L2361.9 73.6 L2366.5 73.3 L2375.5 59.6 L1343.8 59.6 L1343.8 473.3Z M1580.6 652.1 L1589.7 660.4 L1598.9 678.7 L1597.1 691.6 L1583.3 697.1 L1576.9 684.2 L1575.1 671.4 L1577.8 658.5Z M1899.5 539.3 L1906.9 534.7 L1921.6 533.4 L1926.1 537.4 L1919.7 550.3 L1908.7 555.8 L1899.5 552.1Z M2027.9 493.4 L2031.6 480.6 L2042.6 473.2 L2048.1 476.9 L2044.4 489.7 L2035.3 511.7 L2029.8 500.7Z M2033.4 553.9 L2042.6 552.1 L2051.8 553 L2053.6 559.4 L2052.7 576 L2044.4 579.6 L2042.6 592.5 L2046.3 598.9 L2055.4 600.7 L2066.4 605.3 L2071.9 612.7 L2074.7 620 L2084.8 620 L2092.1 638.3 L2084.8 636.5 L2082.9 647.5 L2077.4 632.8 L2073.8 620 L2066.4 614.5 L2060.9 610.8 L2057.3 607.2 L2038.9 607.2 L2033.4 601.7 L2027.9 596.1 L2026.1 579.6 L2031.6 566.8Z M2030.7 609 L2038.9 610.8 L2041.7 623.7Z M1994.9 669.5 L2020.6 633.8 L2023.3 644.8Z M2048.1 627.3 L2061.9 632.8 L2058.2 642.9 L2071.9 635.6 L2068.3 649.4 L2060.9 660.4 L2055.4 651.2 L2049 643.9Z M2075.6 632.8 L2084.8 647.5 L2086.6 636.5Z M2049.9 684.2 L2053.6 675 L2064.6 665.9 L2070.1 669.5 L2079.3 664 L2082.9 656.7 L2088.4 653 L2097.6 658.5 L2101.3 680.6 L2097.6 693.4 L2092.1 686.1 L2086.6 700.7 L2075.6 695.2 L2071.9 684.2 L2068.3 675 L2060.9 678.7Z M1750.1 702.8 L1773 705.5 L1787.7 719.3 L1809.7 741.3 L1818.9 742.2 L1829.9 750.5 L1845.4 766.1 L1845.4 767.9 L1795 767.9 L1789.5 750.5 L1774.8 737.6 L1767.5 726.6 L1752.8 708.3Z M1903.2 767.9 L1903.2 756 L1910.6 743.1 L1919.7 746.8 L1927.1 745 L1930.7 734.9 L1949.1 730.3 L1958.2 719.3 L1976.6 702.8 L1989.4 686.2 L1994.9 685.3 L2000.4 695.4 L2016.9 702.8 L2016.9 706.4 L2011.4 708.3 L2009.6 712.8 L2004.1 715.6 L1996.7 728.4 L2004.1 739.4 L2005 745 L2008.7 752.3 L2015.1 756 L2004.1 757.8 L1998.6 767.9Z M2025.2 767.9 L2026.1 761.5 L2037.1 751.4 L2060.9 756 L2077.4 752.3 L2084.8 747.7 L2085.7 750.5 L2077.4 759.6 L2064.6 763.3 L2042.6 761.8 L2029.8 763.3 L2027.9 767.9Z M2112.5 768.1 L2109.9 754 L2116 740.8 L2117.8 747.9 L2124.8 749.6 L2124.8 762.8 L2117.8 763.7 L2115.2 768.1Z M2276.4 138 L2281 136.4 L2287.8 150.8 L2290.8 166 L2296.9 184.1 L2303.7 199.3 L2287.8 197 L2280.2 212.9 L2290.8 223.5 L2290.8 231.1 L2281.7 224.2 L2274.2 233.3 L2272.7 217.4 L2273.4 202.3 L2274.9 178.1 L2269.6 164.4 L2269.6 149.3 L2280.2 144Z M2273.4 238.6 L2281.7 246.2 L2293.8 253.8 L2302.9 256.8 L2310.5 251.5 L2313.5 264.4 L2299.9 266.6 L2287.8 278 L2269.6 273.4 L2263.6 282.5 L2251.5 283.3 L2249.2 273.4 L2254.5 263.6 L2266.6 262.8 L2269.6 252.2Z M2250.2 289.7 L2266.1 287.4 L2272.1 303.3 L2272.9 313.1 L2262.3 323 L2262.3 338.1 L2260 351.7 L2254 360.1 L2241.1 364.6 L2218.4 364.6 L2204.8 378.2 L2198 374.4 L2195.7 366.9 L2182.1 369.2 L2162.4 374.4 L2151.1 374.4 L2148.8 369.9 L2160.9 362.3 L2171.5 356.3 L2191.2 352.5 L2202.5 354 L2214.6 334.3 L2222.2 339.6 L2245.7 323 L2256.3 307.8 L2251 297.2Z M2133.7 380.5 L2142.8 378.2 L2150.3 374.4 L2160.9 381.3 L2156.4 391.1 L2154.9 400.2 L2147.3 407 L2142 403.2 L2142.8 391.1 L2137.5 388.1Z M2166.2 377.5 L2171.5 374.4 L2180.6 372.9 L2187.4 369.9 L2191.2 372.9 L2189.7 377.5 L2186.7 382 L2177.6 379 L2173 387.3 L2167.7 385Z"/></clipPath>
<g clip-path="url(#frb)">
<g clip-path="url(#ldb)" fill-rule="evenodd">
<rect x="1355" y="71.2" width="1009.3" height="696.2" fill="#08306b"/>
<path fill="#06376e" d="M1341 796l1051 0 0-754-1065 0 0 754 14 0z"/>
<path fill="#03518f" d="M1341 796l1051 0 0-754-1065 0 0 754 14 0z"/>
<path fill="#0570b2" d="M1341 796l1051 0 0-754-1065 0 0 754 14 0zM1619 477l2-3 20 3-6 3-14 0-2-3zM1953 434l-9-15 7-29 7-19 14-20 14-9 14-8 12 13 2 5 8 38-1 15-7 9-11 5-31 10-14 6-5-1z"/>
<path fill="#0688c0" d="M1341 796l1051 0 0-754-1065 0 0 754 14 0zM1627 506l-6-1-14-13-8-15 2-14 6-7 14-2 42 8 3 1 11 11 2 3 2 15-4 11-3 3-11 4-28-2-8-2zM1954 463l-10-1-14-8-5-6-4-14 3-15 18-43 7-15 9-12 18-17 38-25 14-8 14-1 14 1 15 4 10 15-5 14-6 9-14 14-4 6 2 15 1 14-3 15-6 14-4 5-13 10-29 9-41 20-5 0z"/>
<path fill="#03a3d2" d="M1341 796l1051 0 0-754-1065 0 0 754 14 0zM1625 521l-4-1-14-9-5-5-10-14-5-15 1-14 5-9 6-6 8-3 14 0 28 4 14 0 14 2 12 12 7 14 2 15-3 14-9 15-9 5-14 2-14-1-14-2-10-4zM1916 477l-28-14-14-9-6-6-11-14-2-15 5-4 14-3 14 1 14-1 9-7 5-5 14-24 7-15 10-14 25-24 44-34 12-7 28-1 14-4 14-2 14 9 5 5 9 14 1 15-2 14 1 6 8 9 2 14-24 8-6 7-6 14-7 29-6 15-11 14-6 5-28 3-14 3-42 24-14 3-14 0-14-3-14-6z"/>
<path fill="#5ab9da" d="M1341 796l1051 0 0-754-1065 0 0 754 14 0zM1887 564l1-3 1 3-2 0zM1873 550l1-1 2 1-3 0zM1931 550l-5-15-8-14-2-2-14-4-14 1-6-10 0-14-6-15-16-15-20-28-4-15 6-14 4-3 14-5 28 0 14-8 14-14 8-14 11-14 23-24 42-35 14-11 14-8 14-3 13-6 15-10 14-5 14 0 14 6 12 9 2 3 5 11 9 29 15 29 2 15-3 15-4 14-10 6-22 8-6 6-8 23-6 25-6 19-8 14-14 4-28-5-14 1-26 15-12 14-4 15 0 15-22 14-20 10-13-10zM1611 535l-18-10-4-4-10-15-5-14 0-15 3-14 8-15 8-7 14-4 14 0 28 4 28-3 28 8 5 2 15 29 4 15-1 14-4 15-5 6-8 8-20 9-14 3-14 1-14-2-14 1-24-12z"/>
<path fill="#8ccde4" d="M1341 796l1051 0 0-754-1065 0 0 754 14 0zM1623 608l-2 0-14-9-5-6-4-14-5-6-11-9-17-14-14-15-1-14 2-15 4-14 6-29 8-15 16-14 7-4 14-1 42 3 56-8 14-2 14 1 15 6 6 5 6 14-2 44 5 29 13 9 14 0 42-5 7-4 7-7 5-8 4-14-6-15-12-14-9-15-7-14-3-15 5-14 9-11 5-4 9-4 14-3 14 0 14-5 14-10 28-33 17-17 25-22 56-43 12-8 30-24 14-5 14-2 14 1 14 5 14 9 16 16 9 15 4 14 4 15 0 14 4 15 1 14-4 29 0 29-6 8-14 3-14 5-12 13-5 15-2 14-1 29-9 15-13 11-14 6-28-7-14-1-14 4-17 16-7 14-18 15-14 7-56 38-14 2-14-5-28-15-14-2-28-1-14 2-14-1-14-7-14-11-14 1-43 7-28 6-10 8-4 14-14 10-14 6-12-1zM1484 419l-3-1-7-13 7-13 14-4 6 2 8 6 6 9-6 16-14 3-11-5z"/>
<path fill="#b9dfee" d="M1551 796l253 0 0-29 14-4 14-2 14 2 14 4 0 29 532 0 0-754-1065 0 0 585 28 0 14-12 8-7 34-40 14-7 14-11 14-9 14-6 28-9 14-7 14-9 13-18 4-15 2-14 0-15-5-5-6 5-8 3-14 2-28-3-14-10-11-21-1-14 8-15 14-14 4-2 14-1 14 4 13 13 11 15 4 9 14 20 14-4 14-6 14-3 42 3 14-1 14-2 5-2 9-5 56-21 15-1 28 11 14 5 14-6 10-12 18-11 14-5 28-7 10-6 14-14 11-15 21-21 56-51 18-15 16-29 8-7 14-7 42-15 14-2 14 0 14 2 14 7 14 14 6 8 8 8 28 21 10 15 4 14 0 29-3 15-9 29-2 14 2 15 12 29-1 43 3 15 4 14 5 15 4 14-2 15-8 14-19 12-9 3-5 1-28 0-14-1-42-14-28-7-14-2-14 0-14 6-3 2-22 15-48 29-17 14-6 15-2 3-14 5-14 2-14-2-14-7-14-5-14-1-14 0-42 8-14 1-14 7-3 3 2 15-13 14-15 3-14 1-14 0-14-4-4-14 4-15-14-3-14 3-14 7-14 4-28-2-28-8-14 5-10 9-10 14 1 44 3 29-3 29 1 43 4 0zM1705 617l14-6 4-3-4-3-14-4-9 7 9 9zM1790 507l14 2 14 0 5-3 9-14-14-11-14-4-14 7-5 8 5 15z"/>
<path fill="#d8eaf3" d="M1930 796l462 0 0-261-28 0-42 5-14-5-8-14 0-15 12-43 2-15-2-14-4-15-2-14 0-29 2-15-1-14-13-11-14-3-18 14-10 14-1 15 1 43-2 44 2 14 11 29 0 15-11 14-14 11-6 4-33 14-17 4-42-1-28-7-28-5-28-6-14 3-14 4-28 7-28 15-14 10-6 5-5 15-1 14-2 5-14 6-14 4-14 2-14 0-14-2-14-4-15 4-18 14-5 15 3 14 7 7 14 2 28 2 28 10 14 8 5 15 2 43 0 29 7 0zM1691 740l14 2 43-17 1-1-1-15-15-3-42 3-10 15 10 16zM1341 590l14 0 10-11 10-15 17-29 19-44 21-43 1-14-2-15 3-14 6-15 10-14 17-15 14-5 14 1 14 5 14 8 28 28 14 8 14 1 14-1 28 7 14 2 14-3 14-7 14-11 14-6 28-18 14-7 15-2 14 5 14 8 8 2 6 1 14-2 14-7 22-7 29-14 11-15 18-29 18-35 6-8 17-15 19-8 8-6 15-15 12-14 7-6 14-8 14-6 56-20 14-3 14-1 14 1 14 3 14 11 28 34 14 9 14 5 14 6 28 18 18 15 15 14 13 15 10 14 5 15 0 14-1 15 10 4 14 2 28 8 28 0 0-209-28 0-14-2-9-6-33-25-28-16-28-18-15-14 0-29-910 0 0 548 14 0zM2364 477l28 0 0-58-28 0-5 15-3 14 2 15 6 14z"/>
<path fill="#edf2f6" d="M1972 796l135 0 0-29 2-14 3-11 14-28 14-17 14-8 14-4 14-4 14-1 28 3 28-3 28-2 28 2 14-2 14-1 14 2 42-1 0-70-42 1-56-3-14-2-14-2-14-4-11-5-31-9-56 2-14 0-14-3-56-1-14 3-14 1-14-1-14-3-14-1-14 3-18 9-8 15 2 14 4 15 6 14 22 29 8 15 4 14-7 15-12 14-15 16-10 13 0 29 10 0zM1341 549l14 0 6-14 3-14 2-15 0-29 7-29 17-43 11-15 10-9 14-20 12-14 16-10 14-6 14-3 28 6 14 7 42 36 14 4 28 0 28 19 11-10 4-14 27-15 14-10 14-8 28-12 15-3 28 3 14 13 4 3 10 2 5-2 21-15 15-14 4-29-2-29-1-29-4-29-5-15-10-14-9-10-14-9-14 7-14 10-19 16-9 10-15 4-14-2-14-5-14-7-19-14-9-15 5-29-10-14-9-8-14-8-14 4-14 2-14-3-14-10-14 3-14 5-14 1-28-5-28-11-14-3-14 10-14 7-14-3-14-14-17-11 0-29-67 0 0 507 14 0zM1902 203l14 5 14 0 14-6 14-11 14-16 14-13 14-7 28-8 28-10 28-8 14-7 12-7 2-3 14-7 27-5-13-29 0-29-259 0 0 29 3 15 0 14-3 15-8 29 0 14 3 15 6 14 20 16zM2210 194l14 0 14-2 14-5 6-14-9-15-11-9-14-9-14-6-14-5-14 2-7 13 3 14 7 15 11 14 14 7z"/>
<path fill="#fcefea" d="M1509 267l28-4 3-3 3-15 34-43 2-15-3-14-8-15-11-14-22-15-26-5-28-2-14-1-14 4-14 1-14-1-14-3-42-5-14-6-28 0 0 86 28 0 42 5 56 2 14 3 14 16 5 8 8 14 2 15 13 7zM1635 265l14-1 14-7 12-12-4-14-15-15-7-3-28-8-14-7-14-3-11 7 10 29 1 2 12 12 16 14 14 6z"/>
</g>
<path d="M1448.5 492.5 L1447.6 491.6 L1448.5 487.9 L1465 478.7 L1483.4 467.7 L1498 456.7 L1510.9 447.5 L1520.1 438.3 L1521 429.2 L1516.4 420 L1513.7 419.1 L1509 399.2 L1502 385.2 L1509 374.7 L1523 379.3 L1548.8 386.4 L1567.5 396.9 L1579.2 405.1 L1595.5 406.2 L1621.2 404.4 L1640 402.7 L1663.3 401.6 L1677.4 394.5 L1696.1 385.2 L1714.8 378.2 L1735.8 371.1 L1752.2 366.5 L1759.8 366 L1786 363 L1800.1 353.9 L1816.3 346.8 L1832.4 349.9 L1848.6 355.9 L1866.7 355.9 L1880.8 350.9 L1901 339.8 L1917.2 329.7 L1923.2 317.6 L1927.2 305.5 L1935.3 299.4 L1951.4 295.4 L1965.6 287.3 L1981.7 275.2 L2001.9 262.1 L2012 253 L2015 244.9 L2015 228.8 L2020 208.6 L2024.1 192.4 L2020 182.3 L2007.9 174.3 L1989.8 162.2 L1979.7 160.1 L1965.6 168.2 L1947.4 179.3 L1935.3 192.4 L1929.3 199.5 L1919.2 201.5 L1909.1 199.5 L1903 193.4 L1902 187.4 L1909.1 181.3 L1919.2 179.3 L1931.3 175.3 L1939.3 170.2 L1945.4 156.1 L1949.4 135.9 L1951.4 121.8 L1959.5 113.7 L1973.6 108.7 L1997.8 104.6 L2022.1 103.6 L2042.2 100.6 L2062.4 97.6 L2082.6 95.6 L2098.7 97.6 L2122.9 106.7 L2153.2 119.8 L2179.4 128.9 L2197 135.7 L2200 147.8 L2200.8 166 L2203.1 178.1 L2209.1 185.6 L2218.2 190.2 L2228.8 193.2 L2234.8 199.3 L2237.9 211.4 L2236.4 221.2 M1582.4 582.4 L1579.7 583.3 L1576.9 592.5 L1573.2 601.7 L1564.1 614.5 L1558.6 627.3 L1554.9 643.9 L1549.4 656.7 L1543.9 662.2 L1540.2 662.2 M1811.5 684.2 L1796.8 684.2 M2171.5 356.3 L2177.6 358.6 L2189.7 360.8 L2198.8 362.3 L2207.8 364.6 L2215.4 364.6 L2204.8 378.2" fill="none" stroke="#f70c34" stroke-width="3.6" stroke-dasharray="14 6"/>
<path clip-path="url(#ldb)" d="M2236.4 221.2 L2210.6 246.2 L2194 262.8 L2178.9 269.7 L2172.8 269.7 L2164.5 265.1 L2148.6 273.4 L2136.5 282.5 L2135 291.6 L2124.4 299.2 L2112.3 303.7 L2110.8 310.1 L2114 313.9 L2124.6 324.5 L2130.7 333.6 L2133.7 344.2 L2133.7 354.8 L2129.2 360.8 L2123.1 360.1 L2111 363.9 L2104.9 366.9 L2099.7 367.6 L2098.1 354.8 L2098.9 345.7 L2096.6 340.4 L2104.2 338.9 L2100.4 333.6 L2098.9 328.3 L2091.3 326 L2086.8 329.8 L2085.3 326.8 L2081.5 324.5 L2083.8 321.5 L2085.3 316.9 L2088.3 315.4 L2086.8 308.6 L2079.2 306.3 L2074.7 304.1 L2062.6 306.3 L2050.5 310.1 L2038.4 315.4 L2043.7 310.1 L2042.9 305.6 L2050.5 298 L2045.9 291.9 L2035.4 295.7 L2023.2 302.5 L2014.2 309.4 L2003.6 310.9 L1999 316.2 L2003.6 323 L2013.4 326.8 L2015.7 332.1 L2023.2 334.3 L2035.4 329 L2042.9 331.3 L2053.5 332.1 L2055 338.1 L2044.4 339.6 L2036.9 344.2 L2029.3 347.2 L2021.7 351.7 L2017.2 361.6 L2024.8 365.4 L2029.3 369.9 L2032.3 379 L2036.9 389.6 L2044.4 397.2 L2047.5 401.7 L2047.5 407.8 L2041.4 410 L2044.4 413.8 L2050.5 419.9 L2048.1 420 L2046.3 438.3 L2038.9 440.2 L2031.6 453 L2020.6 469.5 L2009.6 482.4 L1991.2 497.1 L1980.2 501.7 L1965.6 503.5 L1960.1 507.2 L1952.7 508.1 L1936.2 513.6 L1921.6 519.1 L1921.6 530.1 L1914.2 530.1 L1910.6 515.4 L1895.9 515.4 L1879.4 524.6 L1872 530.1 L1864.7 539.3 L1866.5 548.4 L1872 555.8 L1877.5 565 L1888.5 576 L1895.9 583.3 L1903.2 594.3 L1906.9 612.7 L1905 631 L1890.4 640.2 L1879.4 647.5 L1866.5 658.5 L1860.1 665.9 L1855.5 651.2 L1848.2 645.7 L1837.2 636.5 L1829.9 623.7 L1822.5 618.2 L1813.4 618.2 L1813.4 610.8 L1804.2 610.8 L1800.5 621.8 L1796.8 631 L1793.2 649.4 L1795 658.5 L1800.5 660.4 L1806 669.5 L1811.5 684.2 L1796.8 684.2 L1783.1 675 L1784 656.7 L1785.8 640.2 L1787.7 621.8 L1784.9 607.2 L1780.3 598 L1774.8 579.6 L1769.3 568.6 L1750.1 584.2 L1738.3 581.5 L1742 566.8 L1738.3 552.1 L1732.8 537.4 L1727.3 535.6 L1716.3 522.8 L1710.8 509.9 L1705.3 502.6 L1696.1 502.6 L1693.4 512.7 L1690.6 511.7 L1680.5 514.5 L1677.8 511.7 L1657.6 517.2 L1656.7 525.5 L1652.1 531.9 L1635.6 541.1 L1619.1 557.6 L1604.4 566.8 L1603.5 574.1 L1593.4 577.8 L1582.4 582.4 M1540.2 662.2 L1537.5 649.4 L1531.1 631 L1521.9 614.5 L1516.4 598 L1506.3 581.5 L1503.6 565 L1499.9 544.8 L1498 530.1 L1496.2 519.1 L1490.7 520 L1479.7 525.5 L1471.5 523.7 L1464.1 512.7 L1457.7 509.9 L1461.4 504.8 L1456.8 498.9 L1448.5 492.5 M2204.8 378.2 L2198 374.4 L2195.7 366.9 L2182.1 369.2 L2162.4 374.4 L2151.1 374.4 L2148.8 369.9 L2148.8 369.9 L2160.9 362.3 L2171.5 356.3 M2133.7 380.5 L2142.8 378.2 L2150.3 374.4 L2160.9 381.3 L2156.4 391.1 L2154.9 400.2 L2147.3 407 L2142 403.2 L2142.8 391.1 L2137.5 388.1Z M2166.2 377.5 L2171.5 374.4 L2180.6 372.9 L2187.4 369.9 L2191.2 372.9 L2189.7 377.5 L2186.7 382 L2177.6 379 L2173 387.3 L2167.7 385Z M1899.5 539.3 L1906.9 534.7 L1921.6 533.4 L1926.1 537.4 L1919.7 550.3 L1908.7 555.8 L1899.5 552.1Z M2027.9 493.4 L2031.6 480.6 L2042.6 473.2 L2048.1 476.9 L2044.4 489.7 L2035.3 511.7 L2029.8 500.7Z M2033.4 553.9 L2042.6 552.1 L2051.8 553 L2053.6 559.4 L2052.7 576 L2044.4 579.6 L2042.6 592.5 L2046.3 598.9 L2055.4 600.7 L2066.4 605.3 L2071.9 612.7 L2074.7 620 L2084.8 620 L2092.1 638.3 L2084.8 636.5 L2082.9 647.5 L2077.4 632.8 L2073.8 620 L2066.4 614.5 L2060.9 610.8 L2057.3 607.2 L2038.9 607.2 L2033.4 601.7 L2027.9 596.1 L2026.1 579.6 L2031.6 566.8Z M2030.7 609 L2038.9 610.8 L2041.7 623.7Z M2048.1 627.3 L2061.9 632.8 L2058.2 642.9 L2071.9 635.6 L2068.3 649.4 L2060.9 660.4 L2055.4 651.2 L2049 643.9Z M2086.6 700.7 L2075.6 695.2 L2071.9 684.2 L2068.3 675 L2060.9 678.7 L2049.9 684.2 L2053.6 675 L2064.6 665.9" fill="none" stroke="#f70c34" stroke-width="8" stroke-dasharray="10 8"/>
<circle cx="2251" cy="347.4" r="4" fill="#f70c34"/>
<path d="M1355 473.2 L1372.4 475.4 L1404.5 473.2 L1425.6 471.7 L1435.7 484.2 L1439.4 489.4 L1448.5 492.5 L1456.8 498.9 L1461.4 504.8 L1457.7 509.9 L1464.1 512.7 L1471.5 523.7 L1479.7 525.5 L1490.7 520 L1496.2 519.1 L1498 530.1 L1499.9 544.8 L1503.6 565 L1506.3 581.5 L1516.4 598 L1521.9 614.5 L1531.1 631 L1537.5 649.4 L1540.2 662.2 L1551.2 674.1 L1558.6 662.2 L1568.7 658.5 L1567.7 654.9 L1572.3 647.5 L1577.8 645.7 L1577.8 625.5 L1582.4 614.5 L1580.6 596.1 L1582.4 582.4 L1593.4 577.8 L1603.5 574.1 L1604.4 566.8 L1619.1 557.6 L1635.6 541.1 L1652.1 531.9 L1656.7 525.5 L1657.6 517.2 L1677.8 511.7 L1680.5 514.5 L1690.6 511.7 L1693.4 512.7 L1696.1 502.6 L1705.3 502.6 L1710.8 509.9 L1716.3 522.8 L1727.3 535.6 L1732.8 537.4 L1738.3 552.1 L1742 566.8 L1738.3 581.5 L1750.1 584.2 L1769.3 568.6 L1774.8 579.6 L1780.3 598 L1784.9 607.2 L1787.7 621.8 L1785.8 640.2 L1784 656.7 L1783.1 675 L1796.8 684.2 L1806 700.7 L1809.7 720.9 L1817 732.1 L1829.9 741.3 L1841.8 751.4 L1850 750.5 L1848.2 743.1 L1841.8 728.4 L1840.9 720.9 L1839 708.1 L1831.7 695.2 L1818.9 687 L1811.5 684.2 L1806 669.5 L1800.5 660.4 L1795 658.5 L1793.2 649.4 L1796.8 631 L1800.5 621.8 L1804.2 610.8 L1813.4 610.8 L1813.4 618.2 L1822.5 618.2 L1829.9 623.7 L1837.2 636.5 L1848.2 645.7 L1855.5 651.2 L1860.1 665.9 L1866.5 658.5 L1879.4 647.5 L1890.4 640.2 L1905 631 L1906.9 612.7 L1903.2 594.3 L1895.9 583.3 L1888.5 576 L1877.5 565 L1872 555.8 L1866.5 548.4 L1864.7 539.3 L1872 530.1 L1879.4 524.6 L1895.9 515.4 L1910.6 515.4 L1914.2 530.1 L1921.6 530.1 L1921.6 519.1 L1936.2 513.6 L1952.7 508.1 L1960.1 507.2 L1965.6 503.5 L1980.2 501.7 L1991.2 497.1 L2009.6 482.4 L2020.6 469.5 L2031.6 453 L2038.9 440.2 L2046.3 438.3 L2048.1 420 L2050.5 419.9 L2044.4 413.8 L2041.4 410 L2047.5 407.8 L2047.5 401.7 L2044.4 397.2 L2036.9 389.6 L2032.3 379 L2029.3 369.9 L2024.8 365.4 L2017.2 361.6 L2021.7 351.7 L2029.3 347.2 L2036.9 344.2 L2044.4 339.6 L2055 338.1 L2053.5 332.1 L2042.9 331.3 L2035.4 329 L2023.2 334.3 L2015.7 332.1 L2013.4 326.8 L2003.6 323 L1999 316.2 L2003.6 310.9 L2014.2 309.4 L2023.2 302.5 L2035.4 295.7 L2045.9 291.9 L2050.5 298 L2042.9 305.6 L2043.7 310.1 L2038.4 315.4 L2050.5 310.1 L2062.6 306.3 L2074.7 304.1 L2079.2 306.3 L2086.8 308.6 L2088.3 315.4 L2085.3 316.9 L2083.8 321.5 L2081.5 324.5 L2085.3 326.8 L2086.8 329.8 L2091.3 326 L2098.9 328.3 L2100.4 333.6 L2104.2 338.9 L2096.6 340.4 L2098.9 345.7 L2098.1 354.8 L2099.7 367.6 L2104.9 366.9 L2111 363.9 L2123.1 360.1 L2129.2 360.8 L2133.7 354.8 L2133.7 344.2 L2130.7 333.6 L2124.6 324.5 L2114 313.9 L2111 310.1 L2112.3 303.7 L2124.4 299.2 L2135 291.6 L2136.5 282.5 L2148.6 273.4 L2164.5 265.1 L2172.8 269.7 L2178.9 269.7 L2194 262.8 L2210.6 246.2 L2236.4 221.2 L2253 205.3 L2256 188.7 L2258.3 172.8 L2266.6 158.4 L2266.6 151.6 L2260.6 147.8 L2250 138.7 L2237.9 138 L2230.3 143.3 L2221.2 141 L2214.4 134.2 L2197 132.4 L2275.7 82.4 L2312 78.2 L2346.8 80.4 L2361.9 73.6 L2366.5 73.3 M1580.6 652.1 L1589.7 660.4 L1598.9 678.7 L1597.1 691.6 L1583.3 697.1 L1576.9 684.2 L1575.1 671.4 L1577.8 658.5Z M1899.5 539.3 L1906.9 534.7 L1921.6 533.4 L1926.1 537.4 L1919.7 550.3 L1908.7 555.8 L1899.5 552.1Z M2027.9 493.4 L2031.6 480.6 L2042.6 473.2 L2048.1 476.9 L2044.4 489.7 L2035.3 511.7 L2029.8 500.7Z M2033.4 553.9 L2042.6 552.1 L2051.8 553 L2053.6 559.4 L2052.7 576 L2044.4 579.6 L2042.6 592.5 L2046.3 598.9 L2055.4 600.7 L2066.4 605.3 L2071.9 612.7 L2074.7 620 L2084.8 620 L2092.1 638.3 L2084.8 636.5 L2082.9 647.5 L2077.4 632.8 L2073.8 620 L2066.4 614.5 L2060.9 610.8 L2057.3 607.2 L2038.9 607.2 L2033.4 601.7 L2027.9 596.1 L2026.1 579.6 L2031.6 566.8Z M2030.7 609 L2038.9 610.8 L2041.7 623.7Z M1994.9 669.5 L2020.6 633.8 L2023.3 644.8Z M2048.1 627.3 L2061.9 632.8 L2058.2 642.9 L2071.9 635.6 L2068.3 649.4 L2060.9 660.4 L2055.4 651.2 L2049 643.9Z M2075.6 632.8 L2084.8 647.5 L2086.6 636.5Z M2049.9 684.2 L2053.6 675 L2064.6 665.9 L2070.1 669.5 L2079.3 664 L2082.9 656.7 L2088.4 653 L2097.6 658.5 L2101.3 680.6 L2097.6 693.4 L2092.1 686.1 L2086.6 700.7 L2075.6 695.2 L2071.9 684.2 L2068.3 675 L2060.9 678.7Z M1750.1 702.8 L1773 705.5 L1787.7 719.3 L1809.7 741.3 L1818.9 742.2 L1829.9 750.5 L1845.4 766.1 L1845.4 767.9 L1795 767.9 L1789.5 750.5 L1774.8 737.6 L1767.5 726.6 L1752.8 708.3Z M1903.2 767.9 L1903.2 756 L1910.6 743.1 L1919.7 746.8 L1927.1 745 L1930.7 734.9 L1949.1 730.3 L1958.2 719.3 L1976.6 702.8 L1989.4 686.2 L1994.9 685.3 L2000.4 695.4 L2016.9 702.8 L2016.9 706.4 L2011.4 708.3 L2009.6 712.8 L2004.1 715.6 L1996.7 728.4 L2004.1 739.4 L2005 745 L2008.7 752.3 L2015.1 756 L2004.1 757.8 L1998.6 767.9Z M2025.2 767.9 L2026.1 761.5 L2037.1 751.4 L2060.9 756 L2077.4 752.3 L2084.8 747.7 L2085.7 750.5 L2077.4 759.6 L2064.6 763.3 L2042.6 761.8 L2029.8 763.3 L2027.9 767.9Z M2112.5 768.1 L2109.9 754 L2116 740.8 L2117.8 747.9 L2124.8 749.6 L2124.8 762.8 L2117.8 763.7 L2115.2 768.1Z M2276.4 138 L2281 136.4 L2287.8 150.8 L2290.8 166 L2296.9 184.1 L2303.7 199.3 L2287.8 197 L2280.2 212.9 L2290.8 223.5 L2290.8 231.1 L2281.7 224.2 L2274.2 233.3 L2272.7 217.4 L2273.4 202.3 L2274.9 178.1 L2269.6 164.4 L2269.6 149.3 L2280.2 144Z M2273.4 238.6 L2281.7 246.2 L2293.8 253.8 L2302.9 256.8 L2310.5 251.5 L2313.5 264.4 L2299.9 266.6 L2287.8 278 L2269.6 273.4 L2263.6 282.5 L2251.5 283.3 L2249.2 273.4 L2254.5 263.6 L2266.6 262.8 L2269.6 252.2Z M2250.2 289.7 L2266.1 287.4 L2272.1 303.3 L2272.9 313.1 L2262.3 323 L2262.3 338.1 L2260 351.7 L2254 360.1 L2241.1 364.6 L2218.4 364.6 L2204.8 378.2 L2198 374.4 L2195.7 366.9 L2182.1 369.2 L2162.4 374.4 L2151.1 374.4 L2148.8 369.9 L2160.9 362.3 L2171.5 356.3 L2191.2 352.5 L2202.5 354 L2214.6 334.3 L2222.2 339.6 L2245.7 323 L2256.3 307.8 L2251 297.2Z M2133.7 380.5 L2142.8 378.2 L2150.3 374.4 L2160.9 381.3 L2156.4 391.1 L2154.9 400.2 L2147.3 407 L2142 403.2 L2142.8 391.1 L2137.5 388.1Z M2166.2 377.5 L2171.5 374.4 L2180.6 372.9 L2187.4 369.9 L2191.2 372.9 L2189.7 377.5 L2186.7 382 L2177.6 379 L2173 387.3 L2167.7 385Z" fill="none" stroke="#000" stroke-width="2" stroke-linejoin="round"/>
</g>
<path d="M1355 767.4H2364.3V71.2" fill="none" stroke="#000" stroke-width="2"/>
<path d="M1355 768.4V71.2H2365.3" fill="none" stroke="#000" stroke-width="3.6"/>
<text x="1338.5" y="87.7" text-anchor="end" class="tl">60°N</text>
<text x="1338.5" y="261.8" text-anchor="end" class="tl">45°N</text>
<text x="1338.5" y="435.8" text-anchor="end" class="tl">30°N</text>
<text x="1338.5" y="609.9" text-anchor="end" class="tl">15°N</text>
<text x="1338.5" y="783.9" text-anchor="end" class="tl">0°</text>
<text x="1355" y="816.9" text-anchor="middle" class="tl">60°E</text>
<text x="1691.4" y="816.9" text-anchor="middle" class="tl">90°E</text>
<text x="2027.9" y="816.9" text-anchor="middle" class="tl">120°E</text>
<text x="2364.3" y="816.9" text-anchor="middle" class="tl">150°E</text>
<path d="M1345.5 71.2H1355 M1345.5 245.2H1355 M1345.5 419.3H1355 M1345.5 593.4H1355 M1345.5 767.4H1355 M1355 767.4V776.9 M1691.4 767.4V776.9 M2027.9 767.4V776.9 M2364.3 767.4V776.9" stroke="#000" stroke-width="2"/>
<text x="1355.5" y="59.5" class="tt">(b) surface net shortwave radiation</text>
<clipPath id="frc"><rect x="145.5" y="1013.9" width="1009.3" height="696.2"/></clipPath>
<clipPath id="ldc"><path d="M145.5 1415.9 L162.9 1418.1 L195 1415.9 L216.1 1414.4 L226.2 1426.9 L229.9 1432.1 L239 1435.2 L247.3 1441.6 L251.9 1447.5 L248.2 1452.6 L254.6 1455.4 L262 1466.4 L270.2 1468.2 L281.2 1462.7 L286.7 1461.8 L288.5 1472.8 L290.4 1487.5 L294.1 1507.7 L296.8 1524.2 L306.9 1540.7 L312.4 1557.2 L321.6 1573.7 L328 1592.1 L330.7 1604.9 L341.7 1616.8 L349.1 1604.9 L359.2 1601.2 L358.2 1597.6 L362.8 1590.2 L368.3 1588.4 L368.3 1568.2 L372.9 1557.2 L371.1 1538.8 L372.9 1525.1 L383.9 1520.5 L394 1516.8 L394.9 1509.5 L409.6 1500.3 L426.1 1483.8 L442.6 1474.6 L447.2 1468.2 L448.1 1459.9 L468.3 1454.4 L471 1457.2 L481.1 1454.4 L483.9 1455.4 L486.6 1445.3 L495.8 1445.3 L501.3 1452.6 L506.8 1465.5 L517.8 1478.3 L523.3 1480.1 L528.8 1494.8 L532.5 1509.5 L528.8 1524.2 L540.6 1526.9 L559.8 1511.3 L565.3 1522.3 L570.8 1540.7 L575.4 1549.9 L578.2 1564.5 L576.3 1582.9 L574.5 1599.4 L573.6 1617.7 L587.3 1626.9 L596.5 1643.4 L600.2 1663.6 L607.5 1674.8 L620.4 1684 L632.3 1694.1 L640.5 1693.2 L638.7 1685.8 L632.3 1671.1 L631.4 1663.6 L629.5 1650.8 L622.2 1637.9 L609.4 1629.7 L602 1626.9 L596.5 1612.2 L591 1603.1 L585.5 1601.2 L583.7 1592.1 L587.3 1573.7 L591 1564.5 L594.7 1553.5 L603.9 1553.5 L603.9 1560.9 L613 1560.9 L620.4 1566.4 L627.7 1579.2 L638.7 1588.4 L646 1593.9 L650.6 1608.6 L657 1601.2 L669.9 1590.2 L680.9 1582.9 L695.5 1573.7 L697.4 1555.4 L693.7 1537 L686.4 1526 L679 1518.7 L668 1507.7 L662.5 1498.5 L657 1491.1 L655.2 1482 L662.5 1472.8 L669.9 1467.3 L686.4 1458.1 L701.1 1458.1 L704.7 1472.8 L712.1 1472.8 L712.1 1461.8 L726.7 1456.3 L743.2 1450.8 L750.6 1449.9 L756.1 1446.2 L770.7 1444.4 L781.7 1439.8 L800.1 1425.1 L811.1 1412.2 L822.1 1395.7 L829.4 1382.9 L836.8 1381 L838.6 1362.7 L841 1362.6 L834.9 1356.5 L831.9 1352.7 L838 1350.5 L838 1344.4 L834.9 1339.9 L827.4 1332.3 L822.8 1321.7 L819.8 1312.6 L815.3 1308.1 L807.7 1304.3 L812.2 1294.4 L819.8 1289.9 L827.4 1286.9 L834.9 1282.3 L845.5 1280.8 L844 1274.8 L833.4 1274 L825.9 1271.7 L813.7 1277 L806.2 1274.8 L803.9 1269.5 L794.1 1265.7 L789.5 1258.9 L794.1 1253.6 L804.7 1252.1 L813.7 1245.2 L825.9 1238.4 L836.4 1234.6 L841 1240.7 L833.4 1248.3 L834.2 1252.8 L828.9 1258.1 L841 1252.8 L853.1 1249 L865.2 1246.8 L869.7 1249 L877.3 1251.3 L878.8 1258.1 L875.8 1259.6 L874.3 1264.2 L872 1267.2 L875.8 1269.5 L877.3 1272.5 L881.8 1268.7 L889.4 1271 L890.9 1276.3 L894.7 1281.6 L887.1 1283.1 L889.4 1288.4 L888.6 1297.5 L890.2 1310.3 L895.4 1309.6 L901.5 1306.6 L913.6 1302.8 L919.7 1303.5 L924.2 1297.5 L924.2 1286.9 L921.2 1276.3 L915.1 1267.2 L904.5 1256.6 L901.5 1252.8 L902.8 1246.4 L914.9 1241.9 L925.5 1234.3 L927 1225.2 L939.1 1216.1 L955 1207.8 L963.3 1212.4 L969.4 1212.4 L984.5 1205.5 L1001.1 1188.9 L1026.9 1163.9 L1043.5 1148 L1046.5 1131.4 L1048.8 1115.5 L1057.1 1101.1 L1057.1 1094.3 L1051.1 1090.5 L1040.5 1081.4 L1028.4 1080.7 L1020.8 1086 L1011.7 1083.7 L1004.9 1076.9 L987.5 1075.1 L1066.2 1025.1 L1102.5 1020.9 L1137.3 1023.1 L1152.4 1016.3 L1157 1016 L1166 1002.3 L134.3 1002.3 L134.3 1416Z M371.1 1594.8 L380.2 1603.1 L389.4 1621.4 L387.6 1634.3 L373.8 1639.8 L367.4 1626.9 L365.6 1614.1 L368.3 1601.2Z M690 1482 L697.4 1477.4 L712.1 1476.1 L716.6 1480.1 L710.2 1493 L699.2 1498.5 L690 1494.8Z M818.4 1436.1 L822.1 1423.3 L833.1 1415.9 L838.6 1419.6 L834.9 1432.4 L825.8 1454.4 L820.3 1443.4Z M823.9 1496.6 L833.1 1494.8 L842.3 1495.7 L844.1 1502.1 L843.2 1518.7 L834.9 1522.3 L833.1 1535.2 L836.8 1541.6 L845.9 1543.4 L856.9 1548 L862.4 1555.4 L865.2 1562.7 L875.3 1562.7 L882.6 1581 L875.3 1579.2 L873.4 1590.2 L867.9 1575.5 L864.3 1562.7 L856.9 1557.2 L851.4 1553.5 L847.8 1549.9 L829.4 1549.9 L823.9 1544.4 L818.4 1538.8 L816.6 1522.3 L822.1 1509.5Z M821.2 1551.7 L829.4 1553.5 L832.2 1566.4Z M785.4 1612.2 L811.1 1576.5 L813.8 1587.5Z M838.6 1570 L852.4 1575.5 L848.7 1585.6 L862.4 1578.3 L858.8 1592.1 L851.4 1603.1 L845.9 1593.9 L839.5 1586.6Z M866.1 1575.5 L875.3 1590.2 L877.1 1579.2Z M840.4 1626.9 L844.1 1617.7 L855.1 1608.6 L860.6 1612.2 L869.8 1606.7 L873.4 1599.4 L878.9 1595.7 L888.1 1601.2 L891.8 1623.3 L888.1 1636.1 L882.6 1628.8 L877.1 1643.4 L866.1 1637.9 L862.4 1626.9 L858.8 1617.7 L851.4 1621.4Z M540.6 1645.5 L563.5 1648.2 L578.2 1662 L600.2 1684 L609.4 1684.9 L620.4 1693.2 L635.9 1708.8 L635.9 1710.6 L585.5 1710.6 L580 1693.2 L565.3 1680.3 L558 1669.3 L543.3 1651Z M693.7 1710.6 L693.7 1698.7 L701.1 1685.8 L710.2 1689.5 L717.6 1687.7 L721.2 1677.6 L739.6 1673 L748.7 1662 L767.1 1645.5 L779.9 1628.9 L785.4 1628 L790.9 1638.1 L807.4 1645.5 L807.4 1649.1 L801.9 1651 L800.1 1655.5 L794.6 1658.3 L787.2 1671.1 L794.6 1682.1 L795.5 1687.7 L799.2 1695 L805.6 1698.7 L794.6 1700.5 L789.1 1710.6Z M815.7 1710.6 L816.6 1704.2 L827.6 1694.1 L851.4 1698.7 L867.9 1695 L875.3 1690.4 L876.2 1693.2 L867.9 1702.3 L855.1 1706 L833.1 1704.5 L820.3 1706 L818.4 1710.6Z M903 1710.8 L900.4 1696.7 L906.5 1683.5 L908.3 1690.6 L915.3 1692.3 L915.3 1705.5 L908.3 1706.4 L905.7 1710.8Z M1066.9 1080.7 L1071.5 1079.1 L1078.3 1093.5 L1081.3 1108.7 L1087.4 1126.8 L1094.2 1142 L1078.3 1139.7 L1070.7 1155.6 L1081.3 1166.2 L1081.3 1173.8 L1072.2 1166.9 L1064.7 1176 L1063.2 1160.1 L1063.9 1145 L1065.4 1120.8 L1060.1 1107.1 L1060.1 1092 L1070.7 1086.7Z M1063.9 1181.3 L1072.2 1188.9 L1084.3 1196.5 L1093.4 1199.5 L1101 1194.2 L1104 1207.1 L1090.4 1209.3 L1078.3 1220.7 L1060.1 1216.1 L1054.1 1225.2 L1042 1226 L1039.7 1216.1 L1045 1206.3 L1057.1 1205.5 L1060.1 1194.9Z M1040.7 1232.4 L1056.6 1230.1 L1062.6 1246 L1063.4 1255.8 L1052.8 1265.7 L1052.8 1280.8 L1050.5 1294.4 L1044.5 1302.8 L1031.6 1307.3 L1008.9 1307.3 L995.3 1320.9 L988.5 1317.1 L986.2 1309.6 L972.6 1311.9 L952.9 1317.1 L941.6 1317.1 L939.3 1312.6 L951.4 1305 L962 1299 L981.7 1295.2 L993 1296.7 L1005.1 1277 L1012.7 1282.3 L1036.2 1265.7 L1046.8 1250.5 L1041.5 1239.9Z M924.2 1323.2 L933.3 1320.9 L940.8 1317.1 L951.4 1324 L946.9 1333.8 L945.4 1342.9 L937.8 1349.7 L932.5 1345.9 L933.3 1333.8 L928 1330.8Z M956.7 1320.2 L962 1317.1 L971.1 1315.6 L977.9 1312.6 L981.7 1315.6 L980.2 1320.2 L977.2 1324.7 L968.1 1321.7 L963.5 1330 L958.2 1327.7Z"/></clipPath>
<g clip-path="url(#frc)">
<g clip-path="url(#ldc)" fill-rule="evenodd">
<rect x="145.5" y="1013.9" width="1009.3" height="696.2" fill="#08306b"/>
<path fill="#06376e" d="M131 1739l1052 0 0-754-1066 0 0 754 14 0zM770 1333l-1-15 7-9 14 2 6 7 1 15-7 6-14 1-6-7z"/>
<path fill="#03518f" d="M131 1739l1052 0 0-754-1066 0 0 754 14 0zM415 1435l-17-30 14-4 28 4 14 6 11 9-7 15-18 7-14 1-11-8zM749 1347l-2-14 3-15 6-14 11-15 23-18 14-5 14 8 13-14 17 0 1 15-3 2-14 0-14 9 0 18 3 14 1 15-4 7-2 7-12 9-14 3-14 1-14-3-13-10z"/>
<path fill="#0570b2" d="M131 1739l1052 0 0-754-1066 0 0 754 14 0zM416 1449l-15-14-10-15-11-14-5-15 9-4 14 0 14 3 14 5 14 1 14 3 17 7 14 14-2 15-15 16-14 4-28 1-10-7zM732 1377l-5-15 3-15 7-29 11-28 16-15 26-20 15-9 13-7 14-4 14-3 14 0 14 4 14 10 12 14 2 15-10 14-18 15-9 14-14 29-16 15-31 12-14 3-28 2-14 2-14-3-2-1z"/>
<path fill="#0688c0" d="M131 1739l1052 0 0-754-1066 0 0 754 14 0zM416 1464l-4-3-14-14-32-41-10-15-1-14 15-3 14 0 42 14 14 0 20 3 22 8 9 7 10 14-2 15-9 14-8 9-14 9-14 3-14 1-14-2-10-5zM675 1406l-11-7-7-8-11-14-2-15 6-10 14-4 28 5 14-3 14-19 16-42 10-14 54-44 4-2 28-9 14-4 14-1 14 1 14 3 15 12 13 24 3 5 0 15-3 10-1 4-24 29-11 29-6 9-5 6-9 5-14 6-28 10-14 6-14 5-28 6-14 6-14 2-28 0-14 2-14-3-3-1zM282 1347l4-4 7 4-7 3-4-3z"/>
<path fill="#03a3d2" d="M131 1739l1052 0 0-754-1066 0 0 754 14 0zM626 1493l3-15 7-3 11-11 3-6 8-9 7-14-2-15-13-16-19-27-1-15 5-15 1-2 14-8 28-1 14-3 14-7 14-22 11-29 3-5 14-13 42-34 12-6 44-15 14-3 14-1 14 2 14 5 14 12 9 14 6 15 2 14 0 15-3 14-7 15-7 10-14 19-11 29-13 15-4 3-14 5-28 6-35 15-28 14-7 8-10 7-4 5-14 8-14-8-14-5-15 14-16 29-17 15-8 8-14-2-10-6zM395 1478l-11-8-5-6-8-29-7-15-8-11-17-18-9-14 12-11 14-4 14 0 14 4 42 15 28 1 28 7 14 8 10 9 10 14-2 15-5 14-8 15-5 5-11 9-17 9-14 3-28-2-14-6-17-4zM269 1347l3-6 6-8 8-3 14 4 7 13-7 12-14 1-14-6-3-7z"/>
<path fill="#5ab9da" d="M131 1739l1052 0 0-754-1066 0 0 754 14 0zM426 1536l-14-14-6-15-8-5-14-1-14-3-11-5-15-15 8-29 1-14-3-15-36-40-14 1-14-2-14-4-11-13 0-15 6-14 5-6 14-5 14 3 8 8 6 9 16 5 12 4 28 0 14 4 10 7 32 12 28 1 14 1 14 3 24 12 17 15 9 14 0 15-2 29-2 14-4 15-14 9-14 3-38 17-18 14-14 0zM634 1536l-12-6-14-5-14-2-28-2-12-14 3-14 9-7 15-8 27-4 14-4 10-6 10-15 4-14-2-15-8-14-11-15-9-14 2-15 4-15 10-14 4-3 14-5 14-1 14-3 14-5 14-12 14-33 6-11 22-21 29-22 13-8 28-10 42-17 14-3 14 1 14 4 14 8 15 13 7 12 7 14 4 15 1 14-1 15-2 14-6 15-8 14-19 29-5 15-7 11-14 18-14 11-14 2-28 1-14 5-20 10-11 15-7 29-4 7-4 7-10 8-14 7-7-15-17-14-4-3-14-3-4 6-18 29-2 14-4 14-8 15-6 2-14 2-16-4z"/>
<path fill="#8ccde4" d="M131 1739l1052 0 0-754-1066 0 0 754 14 0zM403 1551l-17-15-2-4-14-8-14-7-28-9-26-15-11-15 9-5 14-11 11-13 9-14 1-15-21-22-28-1-14-4-14-7-9-9-2-15 2-15 10-14 13-15 14-2 14 1 14 12 14 2 14 5 14 4 28 2 14 8 13 12 15 5 14 1 28 0 14 2 42 9 14 9 3 3 6 15 2 29 3 14 5 15 9 4 14 0 28-4 14-6 7-9 5-14-5-15-24-29-5-14 4-15 12-29 6-6 14-8 14-6 28-8 14-10 14-24 4-11 10-15 14-16 14-10 14-8 14-10 35-13 25-15 10-8 28-11 14 0 14 4 14 8 26 22 13 14 9 15 6 14 2 15-1 14-6 29-4 15-7 14-23 44-6 15-3 14-1 15 10 14 28 0 14 3 11 12 3 3 3 11 1 15-4 8-8 6-6 2-14 1-14 0-14-3-15-8-8-6-20-21-14-8-28-8-14-1-14 4-4 5-10 14-14 33-6 11-8 7-56 27-28 18-14 6-14 4-28 4-14-2-14-6-14-4-14 0-28 8-14 2-42-4-28 3-28 7-14 1-14-6-9-7z"/>
<path fill="#b9dfee" d="M384 1739l166 0 0-29 30-32 14-10 14-3 14-1 14 0 14 4 14 12 14 30 0 29 505 0 0-754-1066 0 0 586 29 0 14-5 28-7 28-12 14 0 8 4 20 6 28 1 28 8 14-6 10-9-4-15-34-12-42-6-14 2-14 3-2-1-12-15-5-14 0-15 5-9 4-5 10-8 14-2 14 2 28-2 14-5 13-14 1-15-14-6-28-2-14-3-14-6-12-12-1-29 4-15 10-14 14-15 13-8 14-1 14 2 14 7 42 9 28 2 14 4 14 16 14 10 14 2 28-2 28 0 14-3 14-5 14 0 28 11 14-1 14-14 8-14 11-15 9-5 19-9 23-15 14-13 28-46 14-17 14-8 37-17 27-15 20-13 14-14 14-11 8-5 6-3 14-2 14 0 14 5 14 9 15 10 41 39 13 14 11 15 7 14 2 15-3 14-11 29-4 15 0 14 5 15 9 14 6 15 1 29 2 29 4 15 2 14 0 15-4 14-11 10-14 8-14 2-28 0-29-2-14-7-28-22-14-8-14-6-14 1-14 11-6 13-19 29-3 3-45 26-16 15-7 14-6 15-10 14-14-8-4-6-10-9-14-1-28 5-28 7-14 2-28 15-14 4-14-1-56 0-14-1-56-9-28-6-14 8-1 15 2 87-1 14 0 29 14 0zM580 1455l14 1 14-3 7-4 6-14-9-15-4-4-14-9-14 1-13 12-2 15 1 3 5 11 9 6z"/>
<path fill="#d8eaf3" d="M734 1739l197 0 0-29 14-13 14-8 14 2 5 5 9 14 0 29 56 0 0-29-12-14 0-15 12-12 4-2 10-2 28-5 70-4 28 0 0-178-28 0-28 4-14 1-14-5-8-14 0-15 11-43 0-15-3-29 2-15 5-14 8-15-15-14-14-4-14-2-14 0-14 6-5 14 0 15 6 44-2 29 1 14 9 29 0 15-9 14-18 15-24 13-14 5-28 2-28-1-15 1-14-1-11-5-17-11-14-6-14-3-14 5-14 10-17 20-22 14-18 15-13 17-4 12-2 14-13 29-2 15 2 14-6 15-3 13 3 30 0 29 11 0zM1113 1739l42 0 0-29-28-1-28 1 0 29 14 0zM482 1671l14 7 14-4 14-3 7-4 7-15-14-8-14 1-28 7-3 15 3 4zM636 1617l14-2 4-6-4-15-14 6-7 9 7 8zM131 1542l15 0 10-6 12-14 6-15 3-29 4-14 21-57 10-45 6-15 10-14 14-15 16-11 14-6 14-1 42 11 42 4 28 1 14 5 6 12 8 13 14 4 23-3 19-6 12-8 7-15 9-10 14-6 14 2 28 16 14 1 14-5 16-12 19-15 16-14 10-15 9-18 14-20 11-20 3-3 14-11 42-12 14-6 17-11 39-36 14-9 14-7 14-5 14-4 14-3 14 0 14 5 15 12 28 32 14 13 28 21 14 7 14 6 14 3 14 0 42-6 84 0 0-203-1066 0 0 557 14 0zM1155 1420l28 0 0-58-28 0-5 29 0 15 5 14zM1155 1347l28 0 0-43-28 0-3 14 3 29z"/>
<path fill="#edf2f6" d="M790 1739l102 0 1-43 2-15 19-43 2-3 15-9 7-3 21-4 28-4 14 1 14 2 14-1 14-2 28-1 28 2 28-4 28 2 28 0 0-64-42 0-28-2-28 0-28-3-14-4-10-5-18-7-14-3-14 3-42 0-43 4-14 0-28-8-14 0-14 3-14 8-14 15-13 14-5 15 4 13 14-1 14 2-14 10-14-8-7 13 3 14 10 15 6 14-18 58 0 29 6 0zM131 1501l15 0 3-8 5-29 2-44 21-87 11-1 14-4 14-14 14-10 14-9 10-6 18-10 14-5 14 10 3 5 11 6 14 4 14-2 14-4 23-4 5-2 11-12 11-29 6-4 14-5 14-7 14-2 42 3 28 1 14 6 7 8 20 29 15 9 14-1 10-8 12-15 6-11 13-32 12-44 4-29-1-14-5-15-16-29-6-14 1-29-2-2-14-2-14 2-14 5-11 11-7 29-5 29-5 14-14 10-14 3-11-12-16-15-15-10-14-1-14 0-14-3-14-9-16-20-12-20-8-9-6-5-20-10-8-2-14-1-28-1-56-4-56 1-14-3-12-4 0-29-59 0 0 240 29 0 17-8 11-3 14 0 28 8 6 9-2 15-11 14-34 29-12 15 0 14-3 7-15 4-28 0 0 172 14 0zM692 1149l14 2 14 0 14-1 14-3 6-3 8-5 10-9 9-15 6-14 3-3 30-12 32-14 8-6 14-5 7-4 7-7 14-10 29-6 11-6 12-14 0-29-248 0 0 29-7 14-26 58-9 24-14 20 14 5 17 9 11 5zM1015 1148l14 3 14 1 14-8 14-14 1-15-3-14-4-15-8-14-14-17-14-8-14-4-14-3-14 1-14 12-3 4-3 15 1 14 3 15 6 14 10 15 14 11 14 7z"/>
<path fill="#fcefea" d="M300 1205l14 2 42 2 14-1 14-4 14-1 14 1 8-2 6-1 17-13-1-15-16-17-14-3-14-9-14-18-28-32-14-14-14-9-14-5-14-3-42-5-84 3-14-1-14-6-29 0 0 94 43 0 42 2 14-2 14 0 14 1 14 4 14 11 18 24 7 14 3 3z"/>
</g>
<path d="M239 1435.2 L238.1 1434.3 L239 1430.6 L255.5 1421.4 L273.9 1410.4 L288.5 1399.4 L301.4 1390.2 L310.6 1381 L311.5 1371.9 L306.9 1362.7 L304.2 1361.8 L299.5 1341.9 L292.5 1327.9 L299.5 1317.4 L313.5 1322 L339.3 1329.1 L358 1339.6 L369.7 1347.8 L386 1348.9 L411.7 1347.1 L430.5 1345.4 L453.8 1344.3 L467.9 1337.2 L486.6 1327.9 L505.3 1320.9 L526.3 1313.8 L542.7 1309.2 L550.3 1308.7 L576.5 1305.7 L590.6 1296.6 L606.8 1289.5 L622.9 1292.6 L639.1 1298.6 L657.2 1298.6 L671.3 1293.6 L691.5 1282.5 L707.7 1272.4 L713.7 1260.3 L717.7 1248.2 L725.8 1242.1 L741.9 1238.1 L756.1 1230 L772.2 1217.9 L792.4 1204.8 L802.5 1195.7 L805.5 1187.6 L805.5 1171.5 L810.5 1151.3 L814.6 1135.1 L810.5 1125 L798.4 1117 L780.3 1104.9 L770.2 1102.8 L756.1 1110.9 L737.9 1122 L725.8 1135.1 L719.8 1142.2 L709.7 1144.2 L699.6 1142.2 L693.5 1136.1 L692.5 1130.1 L699.6 1124 L709.7 1122 L721.8 1118 L729.8 1112.9 L735.9 1098.8 L739.9 1078.6 L741.9 1064.5 L750 1056.4 L764.1 1051.4 L788.3 1047.3 L812.6 1046.3 L832.7 1043.3 L852.9 1040.3 L873.1 1038.3 L889.2 1040.3 L913.4 1049.4 L943.7 1062.5 L969.9 1071.6 L987.5 1078.4 L990.5 1090.5 L991.3 1108.7 L993.6 1120.8 L999.6 1128.3 L1008.7 1132.9 L1019.3 1135.9 L1025.3 1142 L1028.4 1154.1 L1026.9 1163.9 M372.9 1525.1 L370.2 1526 L367.4 1535.2 L363.7 1544.4 L354.6 1557.2 L349.1 1570 L345.4 1586.6 L339.9 1599.4 L334.4 1604.9 L330.7 1604.9 M602 1626.9 L587.3 1626.9 M962 1299 L968.1 1301.3 L980.2 1303.5 L989.3 1305 L998.3 1307.3 L1005.9 1307.3 L995.3 1320.9" fill="none" stroke="#f70c34" stroke-width="3.6" stroke-dasharray="14 6"/>
<path clip-path="url(#ldc)" d="M1026.9 1163.9 L1001.1 1188.9 L984.5 1205.5 L969.4 1212.4 L963.3 1212.4 L955 1207.8 L939.1 1216.1 L927 1225.2 L925.5 1234.3 L914.9 1241.9 L902.8 1246.4 L901.3 1252.8 L904.5 1256.6 L915.1 1267.2 L921.2 1276.3 L924.2 1286.9 L924.2 1297.5 L919.7 1303.5 L913.6 1302.8 L901.5 1306.6 L895.4 1309.6 L890.2 1310.3 L888.6 1297.5 L889.4 1288.4 L887.1 1283.1 L894.7 1281.6 L890.9 1276.3 L889.4 1271 L881.8 1268.7 L877.3 1272.5 L875.8 1269.5 L872 1267.2 L874.3 1264.2 L875.8 1259.6 L878.8 1258.1 L877.3 1251.3 L869.7 1249 L865.2 1246.8 L853.1 1249 L841 1252.8 L828.9 1258.1 L834.2 1252.8 L833.4 1248.3 L841 1240.7 L836.4 1234.6 L825.9 1238.4 L813.7 1245.2 L804.7 1252.1 L794.1 1253.6 L789.5 1258.9 L794.1 1265.7 L803.9 1269.5 L806.2 1274.8 L813.7 1277 L825.9 1271.7 L833.4 1274 L844 1274.8 L845.5 1280.8 L834.9 1282.3 L827.4 1286.9 L819.8 1289.9 L812.2 1294.4 L807.7 1304.3 L815.3 1308.1 L819.8 1312.6 L822.8 1321.7 L827.4 1332.3 L834.9 1339.9 L838 1344.4 L838 1350.5 L831.9 1352.7 L834.9 1356.5 L841 1362.6 L838.6 1362.7 L836.8 1381 L829.4 1382.9 L822.1 1395.7 L811.1 1412.2 L800.1 1425.1 L781.7 1439.8 L770.7 1444.4 L756.1 1446.2 L750.6 1449.9 L743.2 1450.8 L726.7 1456.3 L712.1 1461.8 L712.1 1472.8 L704.7 1472.8 L701.1 1458.1 L686.4 1458.1 L669.9 1467.3 L662.5 1472.8 L655.2 1482 L657 1491.1 L662.5 1498.5 L668 1507.7 L679 1518.7 L686.4 1526 L693.7 1537 L697.4 1555.4 L695.5 1573.7 L680.9 1582.9 L669.9 1590.2 L657 1601.2 L650.6 1608.6 L646 1593.9 L638.7 1588.4 L627.7 1579.2 L620.4 1566.4 L613 1560.9 L603.9 1560.9 L603.9 1553.5 L594.7 1553.5 L591 1564.5 L587.3 1573.7 L583.7 1592.1 L585.5 1601.2 L591 1603.1 L596.5 1612.2 L602 1626.9 L587.3 1626.9 L573.6 1617.7 L574.5 1599.4 L576.3 1582.9 L578.2 1564.5 L575.4 1549.9 L570.8 1540.7 L565.3 1522.3 L559.8 1511.3 L540.6 1526.9 L528.8 1524.2 L532.5 1509.5 L528.8 1494.8 L523.3 1480.1 L517.8 1478.3 L506.8 1465.5 L501.3 1452.6 L495.8 1445.3 L486.6 1445.3 L483.9 1455.4 L481.1 1454.4 L471 1457.2 L468.3 1454.4 L448.1 1459.9 L447.2 1468.2 L442.6 1474.6 L426.1 1483.8 L409.6 1500.3 L394.9 1509.5 L394 1516.8 L383.9 1520.5 L372.9 1525.1 M330.7 1604.9 L328 1592.1 L321.6 1573.7 L312.4 1557.2 L306.9 1540.7 L296.8 1524.2 L294.1 1507.7 L290.4 1487.5 L288.5 1472.8 L286.7 1461.8 L281.2 1462.7 L270.2 1468.2 L262 1466.4 L254.6 1455.4 L248.2 1452.6 L251.9 1447.5 L247.3 1441.6 L239 1435.2 M995.3 1320.9 L988.5 1317.1 L986.2 1309.6 L972.6 1311.9 L952.9 1317.1 L941.6 1317.1 L939.3 1312.6 L939.3 1312.6 L951.4 1305 L962 1299 M924.2 1323.2 L933.3 1320.9 L940.8 1317.1 L951.4 1324 L946.9 1333.8 L945.4 1342.9 L937.8 1349.7 L932.5 1345.9 L933.3 1333.8 L928 1330.8Z M956.7 1320.2 L962 1317.1 L971.1 1315.6 L977.9 1312.6 L981.7 1315.6 L980.2 1320.2 L977.2 1324.7 L968.1 1321.7 L963.5 1330 L958.2 1327.7Z M690 1482 L697.4 1477.4 L712.1 1476.1 L716.6 1480.1 L710.2 1493 L699.2 1498.5 L690 1494.8Z M818.4 1436.1 L822.1 1423.3 L833.1 1415.9 L838.6 1419.6 L834.9 1432.4 L825.8 1454.4 L820.3 1443.4Z M823.9 1496.6 L833.1 1494.8 L842.3 1495.7 L844.1 1502.1 L843.2 1518.7 L834.9 1522.3 L833.1 1535.2 L836.8 1541.6 L845.9 1543.4 L856.9 1548 L862.4 1555.4 L865.2 1562.7 L875.3 1562.7 L882.6 1581 L875.3 1579.2 L873.4 1590.2 L867.9 1575.5 L864.3 1562.7 L856.9 1557.2 L851.4 1553.5 L847.8 1549.9 L829.4 1549.9 L823.9 1544.4 L818.4 1538.8 L816.6 1522.3 L822.1 1509.5Z M821.2 1551.7 L829.4 1553.5 L832.2 1566.4Z M838.6 1570 L852.4 1575.5 L848.7 1585.6 L862.4 1578.3 L858.8 1592.1 L851.4 1603.1 L845.9 1593.9 L839.5 1586.6Z M877.1 1643.4 L866.1 1637.9 L862.4 1626.9 L858.8 1617.7 L851.4 1621.4 L840.4 1626.9 L844.1 1617.7 L855.1 1608.6" fill="none" stroke="#f70c34" stroke-width="8" stroke-dasharray="10 8"/>
<circle cx="1041.5" cy="1290.1" r="4" fill="#f70c34"/>
<path d="M145.5 1415.9 L162.9 1418.1 L195 1415.9 L216.1 1414.4 L226.2 1426.9 L229.9 1432.1 L239 1435.2 L247.3 1441.6 L251.9 1447.5 L248.2 1452.6 L254.6 1455.4 L262 1466.4 L270.2 1468.2 L281.2 1462.7 L286.7 1461.8 L288.5 1472.8 L290.4 1487.5 L294.1 1507.7 L296.8 1524.2 L306.9 1540.7 L312.4 1557.2 L321.6 1573.7 L328 1592.1 L330.7 1604.9 L341.7 1616.8 L349.1 1604.9 L359.2 1601.2 L358.2 1597.6 L362.8 1590.2 L368.3 1588.4 L368.3 1568.2 L372.9 1557.2 L371.1 1538.8 L372.9 1525.1 L383.9 1520.5 L394 1516.8 L394.9 1509.5 L409.6 1500.3 L426.1 1483.8 L442.6 1474.6 L447.2 1468.2 L448.1 1459.9 L468.3 1454.4 L471 1457.2 L481.1 1454.4 L483.9 1455.4 L486.6 1445.3 L495.8 1445.3 L501.3 1452.6 L506.8 1465.5 L517.8 1478.3 L523.3 1480.1 L528.8 1494.8 L532.5 1509.5 L528.8 1524.2 L540.6 1526.9 L559.8 1511.3 L565.3 1522.3 L570.8 1540.7 L575.4 1549.9 L578.2 1564.5 L576.3 1582.9 L574.5 1599.4 L573.6 1617.7 L587.3 1626.9 L596.5 1643.4 L600.2 1663.6 L607.5 1674.8 L620.4 1684 L632.3 1694.1 L640.5 1693.2 L638.7 1685.8 L632.3 1671.1 L631.4 1663.6 L629.5 1650.8 L622.2 1637.9 L609.4 1629.7 L602 1626.9 L596.5 1612.2 L591 1603.1 L585.5 1601.2 L583.7 1592.1 L587.3 1573.7 L591 1564.5 L594.7 1553.5 L603.9 1553.5 L603.9 1560.9 L613 1560.9 L620.4 1566.4 L627.7 1579.2 L638.7 1588.4 L646 1593.9 L650.6 1608.6 L657 1601.2 L669.9 1590.2 L680.9 1582.9 L695.5 1573.7 L697.4 1555.4 L693.7 1537 L686.4 1526 L679 1518.7 L668 1507.7 L662.5 1498.5 L657 1491.1 L655.2 1482 L662.5 1472.8 L669.9 1467.3 L686.4 1458.1 L701.1 1458.1 L704.7 1472.8 L712.1 1472.8 L712.1 1461.8 L726.7 1456.3 L743.2 1450.8 L750.6 1449.9 L756.1 1446.2 L770.7 1444.4 L781.7 1439.8 L800.1 1425.1 L811.1 1412.2 L822.1 1395.7 L829.4 1382.9 L836.8 1381 L838.6 1362.7 L841 1362.6 L834.9 1356.5 L831.9 1352.7 L838 1350.5 L838 1344.4 L834.9 1339.9 L827.4 1332.3 L822.8 1321.7 L819.8 1312.6 L815.3 1308.1 L807.7 1304.3 L812.2 1294.4 L819.8 1289.9 L827.4 1286.9 L834.9 1282.3 L845.5 1280.8 L844 1274.8 L833.4 1274 L825.9 1271.7 L813.7 1277 L806.2 1274.8 L803.9 1269.5 L794.1 1265.7 L789.5 1258.9 L794.1 1253.6 L804.7 1252.1 L813.7 1245.2 L825.9 1238.4 L836.4 1234.6 L841 1240.7 L833.4 1248.3 L834.2 1252.8 L828.9 1258.1 L841 1252.8 L853.1 1249 L865.2 1246.8 L869.7 1249 L877.3 1251.3 L878.8 1258.1 L875.8 1259.6 L874.3 1264.2 L872 1267.2 L875.8 1269.5 L877.3 1272.5 L881.8 1268.7 L889.4 1271 L890.9 1276.3 L894.7 1281.6 L887.1 1283.1 L889.4 1288.4 L888.6 1297.5 L890.2 1310.3 L895.4 1309.6 L901.5 1306.6 L913.6 1302.8 L919.7 1303.5 L924.2 1297.5 L924.2 1286.9 L921.2 1276.3 L915.1 1267.2 L904.5 1256.6 L901.5 1252.8 L902.8 1246.4 L914.9 1241.9 L925.5 1234.3 L927 1225.2 L939.1 1216.1 L955 1207.8 L963.3 1212.4 L969.4 1212.4 L984.5 1205.5 L1001.1 1188.9 L1026.9 1163.9 L1043.5 1148 L1046.5 1131.4 L1048.8 1115.5 L1057.1 1101.1 L1057.1 1094.3 L1051.1 1090.5 L1040.5 1081.4 L1028.4 1080.7 L1020.8 1086 L1011.7 1083.7 L1004.9 1076.9 L987.5 1075.1 L1066.2 1025.1 L1102.5 1020.9 L1137.3 1023.1 L1152.4 1016.3 L1157 1016 M371.1 1594.8 L380.2 1603.1 L389.4 1621.4 L387.6 1634.3 L373.8 1639.8 L367.4 1626.9 L365.6 1614.1 L368.3 1601.2Z M690 1482 L697.4 1477.4 L712.1 1476.1 L716.6 1480.1 L710.2 1493 L699.2 1498.5 L690 1494.8Z M818.4 1436.1 L822.1 1423.3 L833.1 1415.9 L838.6 1419.6 L834.9 1432.4 L825.8 1454.4 L820.3 1443.4Z M823.9 1496.6 L833.1 1494.8 L842.3 1495.7 L844.1 1502.1 L843.2 1518.7 L834.9 1522.3 L833.1 1535.2 L836.8 1541.6 L845.9 1543.4 L856.9 1548 L862.4 1555.4 L865.2 1562.7 L875.3 1562.7 L882.6 1581 L875.3 1579.2 L873.4 1590.2 L867.9 1575.5 L864.3 1562.7 L856.9 1557.2 L851.4 1553.5 L847.8 1549.9 L829.4 1549.9 L823.9 1544.4 L818.4 1538.8 L816.6 1522.3 L822.1 1509.5Z M821.2 1551.7 L829.4 1553.5 L832.2 1566.4Z M785.4 1612.2 L811.1 1576.5 L813.8 1587.5Z M838.6 1570 L852.4 1575.5 L848.7 1585.6 L862.4 1578.3 L858.8 1592.1 L851.4 1603.1 L845.9 1593.9 L839.5 1586.6Z M866.1 1575.5 L875.3 1590.2 L877.1 1579.2Z M840.4 1626.9 L844.1 1617.7 L855.1 1608.6 L860.6 1612.2 L869.8 1606.7 L873.4 1599.4 L878.9 1595.7 L888.1 1601.2 L891.8 1623.3 L888.1 1636.1 L882.6 1628.8 L877.1 1643.4 L866.1 1637.9 L862.4 1626.9 L858.8 1617.7 L851.4 1621.4Z M540.6 1645.5 L563.5 1648.2 L578.2 1662 L600.2 1684 L609.4 1684.9 L620.4 1693.2 L635.9 1708.8 L635.9 1710.6 L585.5 1710.6 L580 1693.2 L565.3 1680.3 L558 1669.3 L543.3 1651Z M693.7 1710.6 L693.7 1698.7 L701.1 1685.8 L710.2 1689.5 L717.6 1687.7 L721.2 1677.6 L739.6 1673 L748.7 1662 L767.1 1645.5 L779.9 1628.9 L785.4 1628 L790.9 1638.1 L807.4 1645.5 L807.4 1649.1 L801.9 1651 L800.1 1655.5 L794.6 1658.3 L787.2 1671.1 L794.6 1682.1 L795.5 1687.7 L799.2 1695 L805.6 1698.7 L794.6 1700.5 L789.1 1710.6Z M815.7 1710.6 L816.6 1704.2 L827.6 1694.1 L851.4 1698.7 L867.9 1695 L875.3 1690.4 L876.2 1693.2 L867.9 1702.3 L855.1 1706 L833.1 1704.5 L820.3 1706 L818.4 1710.6Z M903 1710.8 L900.4 1696.7 L906.5 1683.5 L908.3 1690.6 L915.3 1692.3 L915.3 1705.5 L908.3 1706.4 L905.7 1710.8Z M1066.9 1080.7 L1071.5 1079.1 L1078.3 1093.5 L1081.3 1108.7 L1087.4 1126.8 L1094.2 1142 L1078.3 1139.7 L1070.7 1155.6 L1081.3 1166.2 L1081.3 1173.8 L1072.2 1166.9 L1064.7 1176 L1063.2 1160.1 L1063.9 1145 L1065.4 1120.8 L1060.1 1107.1 L1060.1 1092 L1070.7 1086.7Z M1063.9 1181.3 L1072.2 1188.9 L1084.3 1196.5 L1093.4 1199.5 L1101 1194.2 L1104 1207.1 L1090.4 1209.3 L1078.3 1220.7 L1060.1 1216.1 L1054.1 1225.2 L1042 1226 L1039.7 1216.1 L1045 1206.3 L1057.1 1205.5 L1060.1 1194.9Z M1040.7 1232.4 L1056.6 1230.1 L1062.6 1246 L1063.4 1255.8 L1052.8 1265.7 L1052.8 1280.8 L1050.5 1294.4 L1044.5 1302.8 L1031.6 1307.3 L1008.9 1307.3 L995.3 1320.9 L988.5 1317.1 L986.2 1309.6 L972.6 1311.9 L952.9 1317.1 L941.6 1317.1 L939.3 1312.6 L951.4 1305 L962 1299 L981.7 1295.2 L993 1296.7 L1005.1 1277 L1012.7 1282.3 L1036.2 1265.7 L1046.8 1250.5 L1041.5 1239.9Z M924.2 1323.2 L933.3 1320.9 L940.8 1317.1 L951.4 1324 L946.9 1333.8 L945.4 1342.9 L937.8 1349.7 L932.5 1345.9 L933.3 1333.8 L928 1330.8Z M956.7 1320.2 L962 1317.1 L971.1 1315.6 L977.9 1312.6 L981.7 1315.6 L980.2 1320.2 L977.2 1324.7 L968.1 1321.7 L963.5 1330 L958.2 1327.7Z" fill="none" stroke="#000" stroke-width="2" stroke-linejoin="round"/>
</g>
<path d="M145.5 1710.1H1154.8V1013.9" fill="none" stroke="#000" stroke-width="2"/>
<path d="M145.5 1711.1V1013.9H1155.8" fill="none" stroke="#000" stroke-width="3.6"/>
<text x="129" y="1030.4" text-anchor="end" class="tl">60°N</text>
<text x="129" y="1204.5" text-anchor="end" class="tl">45°N</text>
<text x="129" y="1378.5" text-anchor="end" class="tl">30°N</text>
<text x="129" y="1552.6" text-anchor="end" class="tl">15°N</text>
<text x="129" y="1726.6" text-anchor="end" class="tl">0°</text>
<text x="145.5" y="1759.6" text-anchor="middle" class="tl">60°E</text>
<text x="481.9" y="1759.6" text-anchor="middle" class="tl">90°E</text>
<text x="818.4" y="1759.6" text-anchor="middle" class="tl">120°E</text>
<text x="1154.8" y="1759.6" text-anchor="middle" class="tl">150°E</text>
<path d="M136 1013.9H145.5 M136 1188H145.5 M136 1362H145.5 M136 1536.1H145.5 M136 1710.1H145.5 M145.5 1710.1V1719.6 M481.9 1710.1V1719.6 M818.4 1710.1V1719.6 M1154.8 1710.1V1719.6" stroke="#000" stroke-width="2"/>
<text x="146" y="1002.2" class="tt">(c) surface downwelling shortwave radiation</text>
<clipPath id="frd"><rect x="1355" y="1013.9" width="1009.3" height="696.2"/></clipPath>
<clipPath id="ldd"><path d="M1355 1415.9 L1372.4 1418.1 L1404.5 1415.9 L1425.6 1414.4 L1435.7 1426.9 L1439.4 1432.1 L1448.5 1435.2 L1456.8 1441.6 L1461.4 1447.5 L1457.7 1452.6 L1464.1 1455.4 L1471.5 1466.4 L1479.7 1468.2 L1490.7 1462.7 L1496.2 1461.8 L1498 1472.8 L1499.9 1487.5 L1503.6 1507.7 L1506.3 1524.2 L1516.4 1540.7 L1521.9 1557.2 L1531.1 1573.7 L1537.5 1592.1 L1540.2 1604.9 L1551.2 1616.8 L1558.6 1604.9 L1568.7 1601.2 L1567.7 1597.6 L1572.3 1590.2 L1577.8 1588.4 L1577.8 1568.2 L1582.4 1557.2 L1580.6 1538.8 L1582.4 1525.1 L1593.4 1520.5 L1603.5 1516.8 L1604.4 1509.5 L1619.1 1500.3 L1635.6 1483.8 L1652.1 1474.6 L1656.7 1468.2 L1657.6 1459.9 L1677.8 1454.4 L1680.5 1457.2 L1690.6 1454.4 L1693.4 1455.4 L1696.1 1445.3 L1705.3 1445.3 L1710.8 1452.6 L1716.3 1465.5 L1727.3 1478.3 L1732.8 1480.1 L1738.3 1494.8 L1742 1509.5 L1738.3 1524.2 L1750.1 1526.9 L1769.3 1511.3 L1774.8 1522.3 L1780.3 1540.7 L1784.9 1549.9 L1787.7 1564.5 L1785.8 1582.9 L1784 1599.4 L1783.1 1617.7 L1796.8 1626.9 L1806 1643.4 L1809.7 1663.6 L1817 1674.8 L1829.9 1684 L1841.8 1694.1 L1850 1693.2 L1848.2 1685.8 L1841.8 1671.1 L1840.9 1663.6 L1839 1650.8 L1831.7 1637.9 L1818.9 1629.7 L1811.5 1626.9 L1806 1612.2 L1800.5 1603.1 L1795 1601.2 L1793.2 1592.1 L1796.8 1573.7 L1800.5 1564.5 L1804.2 1553.5 L1813.4 1553.5 L1813.4 1560.9 L1822.5 1560.9 L1829.9 1566.4 L1837.2 1579.2 L1848.2 1588.4 L1855.5 1593.9 L1860.1 1608.6 L1866.5 1601.2 L1879.4 1590.2 L1890.4 1582.9 L1905 1573.7 L1906.9 1555.4 L1903.2 1537 L1895.9 1526 L1888.5 1518.7 L1877.5 1507.7 L1872 1498.5 L1866.5 1491.1 L1864.7 1482 L1872 1472.8 L1879.4 1467.3 L1895.9 1458.1 L1910.6 1458.1 L1914.2 1472.8 L1921.6 1472.8 L1921.6 1461.8 L1936.2 1456.3 L1952.7 1450.8 L1960.1 1449.9 L1965.6 1446.2 L1980.2 1444.4 L1991.2 1439.8 L2009.6 1425.1 L2020.6 1412.2 L2031.6 1395.7 L2038.9 1382.9 L2046.3 1381 L2048.1 1362.7 L2050.5 1362.6 L2044.4 1356.5 L2041.4 1352.7 L2047.5 1350.5 L2047.5 1344.4 L2044.4 1339.9 L2036.9 1332.3 L2032.3 1321.7 L2029.3 1312.6 L2024.8 1308.1 L2017.2 1304.3 L2021.7 1294.4 L2029.3 1289.9 L2036.9 1286.9 L2044.4 1282.3 L2055 1280.8 L2053.5 1274.8 L2042.9 1274 L2035.4 1271.7 L2023.2 1277 L2015.7 1274.8 L2013.4 1269.5 L2003.6 1265.7 L1999 1258.9 L2003.6 1253.6 L2014.2 1252.1 L2023.2 1245.2 L2035.4 1238.4 L2045.9 1234.6 L2050.5 1240.7 L2042.9 1248.3 L2043.7 1252.8 L2038.4 1258.1 L2050.5 1252.8 L2062.6 1249 L2074.7 1246.8 L2079.2 1249 L2086.8 1251.3 L2088.3 1258.1 L2085.3 1259.6 L2083.8 1264.2 L2081.5 1267.2 L2085.3 1269.5 L2086.8 1272.5 L2091.3 1268.7 L2098.9 1271 L2100.4 1276.3 L2104.2 1281.6 L2096.6 1283.1 L2098.9 1288.4 L2098.1 1297.5 L2099.7 1310.3 L2104.9 1309.6 L2111 1306.6 L2123.1 1302.8 L2129.2 1303.5 L2133.7 1297.5 L2133.7 1286.9 L2130.7 1276.3 L2124.6 1267.2 L2114 1256.6 L2111 1252.8 L2112.3 1246.4 L2124.4 1241.9 L2135 1234.3 L2136.5 1225.2 L2148.6 1216.1 L2164.5 1207.8 L2172.8 1212.4 L2178.9 1212.4 L2194 1205.5 L2210.6 1188.9 L2236.4 1163.9 L2253 1148 L2256 1131.4 L2258.3 1115.5 L2266.6 1101.1 L2266.6 1094.3 L2260.6 1090.5 L2250 1081.4 L2237.9 1080.7 L2230.3 1086 L2221.2 1083.7 L2214.4 1076.9 L2197 1075.1 L2275.7 1025.1 L2312 1020.9 L2346.8 1023.1 L2361.9 1016.3 L2366.5 1016 L2375.5 1002.3 L1343.8 1002.3 L1343.8 1416Z M1580.6 1594.8 L1589.7 1603.1 L1598.9 1621.4 L1597.1 1634.3 L1583.3 1639.8 L1576.9 1626.9 L1575.1 1614.1 L1577.8 1601.2Z M1899.5 1482 L1906.9 1477.4 L1921.6 1476.1 L1926.1 1480.1 L1919.7 1493 L1908.7 1498.5 L1899.5 1494.8Z M2027.9 1436.1 L2031.6 1423.3 L2042.6 1415.9 L2048.1 1419.6 L2044.4 1432.4 L2035.3 1454.4 L2029.8 1443.4Z M2033.4 1496.6 L2042.6 1494.8 L2051.8 1495.7 L2053.6 1502.1 L2052.7 1518.7 L2044.4 1522.3 L2042.6 1535.2 L2046.3 1541.6 L2055.4 1543.4 L2066.4 1548 L2071.9 1555.4 L2074.7 1562.7 L2084.8 1562.7 L2092.1 1581 L2084.8 1579.2 L2082.9 1590.2 L2077.4 1575.5 L2073.8 1562.7 L2066.4 1557.2 L2060.9 1553.5 L2057.3 1549.9 L2038.9 1549.9 L2033.4 1544.4 L2027.9 1538.8 L2026.1 1522.3 L2031.6 1509.5Z M2030.7 1551.7 L2038.9 1553.5 L2041.7 1566.4Z M1994.9 1612.2 L2020.6 1576.5 L2023.3 1587.5Z M2048.1 1570 L2061.9 1575.5 L2058.2 1585.6 L2071.9 1578.3 L2068.3 1592.1 L2060.9 1603.1 L2055.4 1593.9 L2049 1586.6Z M2075.6 1575.5 L2084.8 1590.2 L2086.6 1579.2Z M2049.9 1626.9 L2053.6 1617.7 L2064.6 1608.6 L2070.1 1612.2 L2079.3 1606.7 L2082.9 1599.4 L2088.4 1595.7 L2097.6 1601.2 L2101.3 1623.3 L2097.6 1636.1 L2092.1 1628.8 L2086.6 1643.4 L2075.6 1637.9 L2071.9 1626.9 L2068.3 1617.7 L2060.9 1621.4Z M1750.1 1645.5 L1773 1648.2 L1787.7 1662 L1809.7 1684 L1818.9 1684.9 L1829.9 1693.2 L1845.4 1708.8 L1845.4 1710.6 L1795 1710.6 L1789.5 1693.2 L1774.8 1680.3 L1767.5 1669.3 L1752.8 1651Z M1903.2 1710.6 L1903.2 1698.7 L1910.6 1685.8 L1919.7 1689.5 L1927.1 1687.7 L1930.7 1677.6 L1949.1 1673 L1958.2 1662 L1976.6 1645.5 L1989.4 1628.9 L1994.9 1628 L2000.4 1638.1 L2016.9 1645.5 L2016.9 1649.1 L2011.4 1651 L2009.6 1655.5 L2004.1 1658.3 L1996.7 1671.1 L2004.1 1682.1 L2005 1687.7 L2008.7 1695 L2015.1 1698.7 L2004.1 1700.5 L1998.6 1710.6Z M2025.2 1710.6 L2026.1 1704.2 L2037.1 1694.1 L2060.9 1698.7 L2077.4 1695 L2084.8 1690.4 L2085.7 1693.2 L2077.4 1702.3 L2064.6 1706 L2042.6 1704.5 L2029.8 1706 L2027.9 1710.6Z M2112.5 1710.8 L2109.9 1696.7 L2116 1683.5 L2117.8 1690.6 L2124.8 1692.3 L2124.8 1705.5 L2117.8 1706.4 L2115.2 1710.8Z M2276.4 1080.7 L2281 1079.1 L2287.8 1093.5 L2290.8 1108.7 L2296.9 1126.8 L2303.7 1142 L2287.8 1139.7 L2280.2 1155.6 L2290.8 1166.2 L2290.8 1173.8 L2281.7 1166.9 L2274.2 1176 L2272.7 1160.1 L2273.4 1145 L2274.9 1120.8 L2269.6 1107.1 L2269.6 1092 L2280.2 1086.7Z M2273.4 1181.3 L2281.7 1188.9 L2293.8 1196.5 L2302.9 1199.5 L2310.5 1194.2 L2313.5 1207.1 L2299.9 1209.3 L2287.8 1220.7 L2269.6 1216.1 L2263.6 1225.2 L2251.5 1226 L2249.2 1216.1 L2254.5 1206.3 L2266.6 1205.5 L2269.6 1194.9Z M2250.2 1232.4 L2266.1 1230.1 L2272.1 1246 L2272.9 1255.8 L2262.3 1265.7 L2262.3 1280.8 L2260 1294.4 L2254 1302.8 L2241.1 1307.3 L2218.4 1307.3 L2204.8 1320.9 L2198 1317.1 L2195.7 1309.6 L2182.1 1311.9 L2162.4 1317.1 L2151.1 1317.1 L2148.8 1312.6 L2160.9 1305 L2171.5 1299 L2191.2 1295.2 L2202.5 1296.7 L2214.6 1277 L2222.2 1282.3 L2245.7 1265.7 L2256.3 1250.5 L2251 1239.9Z M2133.7 1323.2 L2142.8 1320.9 L2150.3 1317.1 L2160.9 1324 L2156.4 1333.8 L2154.9 1342.9 L2147.3 1349.7 L2142 1345.9 L2142.8 1333.8 L2137.5 1330.8Z M2166.2 1320.2 L2171.5 1317.1 L2180.6 1315.6 L2187.4 1312.6 L2191.2 1315.6 L2189.7 1320.2 L2186.7 1324.7 L2177.6 1321.7 L2173 1330 L2167.7 1327.7Z"/></clipPath>
<g clip-path="url(#frd)">
<g clip-path="url(#ldd)" fill-rule="evenodd">
<rect x="1355" y="1013.9" width="1009.3" height="696.2" fill="#fcfbfd"/>
<path fill="#f9f7fb" d="M1341 1739l1051 0 0-754-1013 0 0 29 3 29-2 14-3 15-7 14-10 15-5 6-28 0 0 632 14 0z"/>
<path fill="#f2f0f7" d="M1341 1739l631 0 0-29-3-43 3-15 9-14-15-73-1-14 7-15 14-2 42 2 28-2 56-2 70-5 14 1 14-2 14 3 14 5 14 9 14 5 14 2 70 5 42 0 0-570-252 0 0 29-14 6-14 8-16 15-12 9-14 2-28-1-14 1-28 6-28 12-28 17-15 12-11 14-2 15 14 9 12 5 2 3 5 12-5 2-8-2-6-6-14 3-1 3-9 14-4 3-14 5-28 7-14 10-28 33-14 15-29 14-13 15-10 14-4 15 1 14-1 15-15 3-14-4-10 15-4 1-15-1-27-12-9-2 2-15 7-6 28-8-12-15-16-15-14-17-15-26-13-11-14-2-70-2-14 3-14 8-14 13-9 6-19 4-28 4-14 3-4 3-8 15-16 46-14 26-13 15-9 15-2 14 0 29 3 29-1 15-4 14-2 5-28 0 0 256 14 0zM2000 1628l28-6 14 1 11-14-11-13-14-2-21 15-7 10-6 4 6 5z"/>
<path fill="#e8e7f2" d="M1341 1739l238 0 0-29 12-14 9-15 0-14-42-29-11-15 1-14 17-11 14-4 42 1 42-3 28 2 28 4 14 0 15-4 26-14 16-3 14 2 14-1 14 2 42 21 14 2 14-3 14-6 14-10 14-19 2-29 12-12 14-6 28 1 14-2 14-7 28-5 28 1 14-2 28-5 28-7 14 0 14 2 14 1 14-6 14-11 3-14 1-15-2-14-4-15 0-14-4-44-8-14-11-15-3-7-6-8 6-14 14-19 14-16 14-13 14-10 14-8 14 0 28 8 14 0 28-1 14 1 28 0 0-58-70-1-14 1-28 7-14 0-14-7-14-12-42-46-14-10-14-8-34-11-22-4-56 1-14 2-14 5-16 10-11 15-1 14-6 15-12 14-24 13-28 6-13 10-22 29-7 6-14 3-14 6-28 19-14 12-12 12-9 15-3 14-1 44-3 9-14 6-14-2-29-4-28-3-28-6-42-6-17-9-11-24-6-5 7-14 13-7 5-8 0-14-5-16-14-11-14-5-14-1-14 1-14 3-14 8-4 6 0 15-6 14-4 3-8-3-20-12-28 6-14 3-6 3-8 6-6 9-7 14-7 44-4 15-18 43-6 29-5 15-17 40-14 22-28 0 0 213 14 0z"/>
<path fill="#ddddec" d="M1439 1565l14-4 14-3 28-3 14 0 28 4 14 4 28 1 56 8 14-6 14-9 28-21 14-6 14-1 14 2 15 5 34 15 8 2 14 3 42-5 14 1 14 3 14 5 14 0 14-8 7-16 15-14 20-11 14-6 14 1 14-1 28-16 14-4 14 0 28 2 14-2 17-7 11-8 6-6 2-15-4-29 1-29-1-14-5-15-13-30 3-14 25-14 15-15 8-14 13-29 2-15-2-14-5-15-8-14-23-29-18-15-10-5-14-6-14-3-14 0-14 4-14 7-15 18-18 14-24 15-13 5-28 6-9 3-5 4-7 11-7 17-9 12-5 4-28 11-14 15-28 20-8 8-10 14-4 15-7 44-9 14-4 4-14 2-14-3-14-4-15-2-14-5-28-6-14-6-42-5-19-4-23-12-14-3-14-11-7-18-7-4-28-2-14-4-28-5-14 1-14 8-6 6-6 15-2 29-4 29 5 15 13 8 14 6 13 15-13 11-28 1-14 14-14 19-14 22-13 34 3 15 10 8 28 6 14 0zM1912 1507l-7-14 11-15 13 15-7 14-6 8-4-8zM1565 1294l14-1 16-4 10-14-12-15-14-1-15 1-9 15 4 14 6 5z"/>
<path fill="#cecfe5" d="M1621 1553l14 1 9-3 5-4 13-11 2-14 13-11 42-14 29-19 14-5 7 5 7 9 6 20 8 15 14 7 14 1 14-2 28-7 14-3 14-5 2-6-4-14-2-15 4-10 4-4 10-3 14 3 14 6 12 8 7 15 9 4 14-4 16 0 12-7 28-19 14-2 42 4 16-5 12-11 2-4 1-14-1-15 1-29-9-29-12-29-3-15 2-14 5-6 17-9 11-10 10-19 4-14 0-15-2-14-5-15-7-10-14-14-14-9-14-5-14 0-14 2-12 7-32 15-40 14-28 6-10 9-13 29-5 9-14 9-14 6-8 5-16 14-20 15-15 14-7 15-10 29 2 15-1 14-2 15-7 14-14 9-14-9-28-12-29-9-14-8-14-3-14-8-14-3-28-3-42-8-14-1-14-3-14-11-10-18-4-3-14-2-14-9-14-3-14-1-7 3-14 15-5 14 2 30 10 13 14 8 14 3 28 0 10 5 4 4 4 10-2 15-8 14-8 13-16 16-1 15 13 14 26 15 76 31z"/>
<path fill="#bebfdd" d="M1593 1486l14 2 14 0 14 3 14-3 28 1 14-4 14-8 17-13 11-15 3-14-10-15-7-3-14-11-14-7-14-10-14-5-14-2-14 0-28-5-14 0-14 7-17 7-2 15 3 14-4 29 5 15 1 2 14 12 14 8zM1832 1487l14 4 14-13 3-14 6-15 5-2 14-1 28 8 14 5 28 16 14 4 14-3 14-10 14-13 14-10 14 0 14 2 14 4 14 1 14-12 2-3 2-29-3-15-19-58-3-15 1-14 6-15 20-14 9-15 5-14 0-15-2-14-8-15-10-8-14-6-14-3-14 2-28 6-42 13-28 6-13 5-9 14-6 19-5 10-9 10-28 14-28 20-18 14-19 29-5 15 14 49 4 9 11 15 5 14-8 15-14 14 2 9zM1495 1380l14 0 8-3 6-5 7-10-7-15-11-14-3-2-14-4-14 3-2 3-7 14 2 15 7 11 14 7z"/>
<path fill="#aeadd3" d="M1607 1468l42 5 14 1 14-2 16-8 11-15 3-14-7-15-14-14-23-15-14-2-14 1-28-4-14 3-2 2-9 15-3 14 1 15 3 14 10 14 14 5zM1930 1450l28 11 14-3 14-7 16-16 12-9 14-6 14 1 28 9 14-10 1-14-11-29 0-15-7-29-2-15 0-14 6-15 13-18 11-11 5-14 0-15-4-14-12-10-14-7-14-1-42 7-28 8-28 6-13 11-6 15-4 14-5 11-4 4-10 9-14 6-25 14-17 8-14 13-14 19-8 18 8 20 14 24 14 14 14 8 14 7 28 9 14 6zM1495 1350l6-3-6-2-3 2 3 3z"/>
<path fill="#9e9ac8" d="M1607 1452l28 5 14 5 14 0 14-5 7-8 4-14-4-15-14-14-7-5-14-3-14 1-28-2-10 9-5 14 1 15 9 14 5 3zM1916 1435l14 4 14 2 14-6 23-15 47-18 15-11 12-14 5-15-7-44 0-14 14-29 10-15 7-14-1-15-13-14-14-6-14 0-14 1-14 2-42 10-14 5-3 2-8 15-3 16-5 13-9 12-14 10-15 7-27 9-14 7-14 13-11 14-6 15 6 15 11 16 11 13 3 2 28 16 14 6 14 5z"/>
<path fill="#8e8ac0" d="M1649 1450l16-1 8-14-3-15-7-6-14-6-14 3-14 1-13 8 12 15 15 7 14 8zM1916 1422l14 1 6-3 10-14 12-9 14 4 14-1 14-2 18-7 10-6 9-8 8-15 0-15-4-29 0-14 22-44 6-14-6-15-7-5-14-5-28 1-43 9-13 11-2 4-4 14-3 15-5 13-14 15-14 11-14-1-14 3-14 4-14 7-14 14-5 6-6 15 6 15 5 7 14 15 28 15 14 5 14 3z"/>
<path fill="#7e79b8" d="M1902 1408l7-2 4-15-6-29 0-15-1-14-4-5-14-3-14 2-14 7-14 15-5 13 5 11 15 18 13 7 14 6 14 4zM1972 1377l14 3 14 0 14-4 14-14 2-15-3-29 1-14 6-15 10-14 5-15 3-14-10-11-14-4-14 0-14 2-14 3-14 5-6 5-6 14-4 29-7 15-4 14 6 29 5 15 16 15z"/>
<path fill="#7262ac" d="M1888 1395l8-4 1-14-3-15 0-15-6-13-14 1-14 7-5 5-7 15 8 15 4 4 14 8 14 6zM1986 1349l14-1 9-15 2-29 4-15 13-18 4-11-4-14-14-3-14-1-14 3-3 1-11 11-2 3-2 15 0 29 0 14 3 15 1 3 14 13z"/>
<path fill="#674ba0" d="M1874 1378l7-1-1-15-3-15-3-1-4 1-10 9-3 6 3 5 14 11z"/>
</g>
<path d="M1448.5 1435.2 L1447.6 1434.3 L1448.5 1430.6 L1465 1421.4 L1483.4 1410.4 L1498 1399.4 L1510.9 1390.2 L1520.1 1381 L1521 1371.9 L1516.4 1362.7 L1513.7 1361.8 L1509 1341.9 L1502 1327.9 L1509 1317.4 L1523 1322 L1548.8 1329.1 L1567.5 1339.6 L1579.2 1347.8 L1595.5 1348.9 L1621.2 1347.1 L1640 1345.4 L1663.3 1344.3 L1677.4 1337.2 L1696.1 1327.9 L1714.8 1320.9 L1735.8 1313.8 L1752.2 1309.2 L1759.8 1308.7 L1786 1305.7 L1800.1 1296.6 L1816.3 1289.5 L1832.4 1292.6 L1848.6 1298.6 L1866.7 1298.6 L1880.8 1293.6 L1901 1282.5 L1917.2 1272.4 L1923.2 1260.3 L1927.2 1248.2 L1935.3 1242.1 L1951.4 1238.1 L1965.6 1230 L1981.7 1217.9 L2001.9 1204.8 L2012 1195.7 L2015 1187.6 L2015 1171.5 L2020 1151.3 L2024.1 1135.1 L2020 1125 L2007.9 1117 L1989.8 1104.9 L1979.7 1102.8 L1965.6 1110.9 L1947.4 1122 L1935.3 1135.1 L1929.3 1142.2 L1919.2 1144.2 L1909.1 1142.2 L1903 1136.1 L1902 1130.1 L1909.1 1124 L1919.2 1122 L1931.3 1118 L1939.3 1112.9 L1945.4 1098.8 L1949.4 1078.6 L1951.4 1064.5 L1959.5 1056.4 L1973.6 1051.4 L1997.8 1047.3 L2022.1 1046.3 L2042.2 1043.3 L2062.4 1040.3 L2082.6 1038.3 L2098.7 1040.3 L2122.9 1049.4 L2153.2 1062.5 L2179.4 1071.6 L2197 1078.4 L2200 1090.5 L2200.8 1108.7 L2203.1 1120.8 L2209.1 1128.3 L2218.2 1132.9 L2228.8 1135.9 L2234.8 1142 L2237.9 1154.1 L2236.4 1163.9 M1582.4 1525.1 L1579.7 1526 L1576.9 1535.2 L1573.2 1544.4 L1564.1 1557.2 L1558.6 1570 L1554.9 1586.6 L1549.4 1599.4 L1543.9 1604.9 L1540.2 1604.9 M1811.5 1626.9 L1796.8 1626.9 M2171.5 1299 L2177.6 1301.3 L2189.7 1303.5 L2198.8 1305 L2207.8 1307.3 L2215.4 1307.3 L2204.8 1320.9" fill="none" stroke="#f70c34" stroke-width="3.6" stroke-dasharray="14 6"/>
<path clip-path="url(#ldd)" d="M2236.4 1163.9 L2210.6 1188.9 L2194 1205.5 L2178.9 1212.4 L2172.8 1212.4 L2164.5 1207.8 L2148.6 1216.1 L2136.5 1225.2 L2135 1234.3 L2124.4 1241.9 L2112.3 1246.4 L2110.8 1252.8 L2114 1256.6 L2124.6 1267.2 L2130.7 1276.3 L2133.7 1286.9 L2133.7 1297.5 L2129.2 1303.5 L2123.1 1302.8 L2111 1306.6 L2104.9 1309.6 L2099.7 1310.3 L2098.1 1297.5 L2098.9 1288.4 L2096.6 1283.1 L2104.2 1281.6 L2100.4 1276.3 L2098.9 1271 L2091.3 1268.7 L2086.8 1272.5 L2085.3 1269.5 L2081.5 1267.2 L2083.8 1264.2 L2085.3 1259.6 L2088.3 1258.1 L2086.8 1251.3 L2079.2 1249 L2074.7 1246.8 L2062.6 1249 L2050.5 1252.8 L2038.4 1258.1 L2043.7 1252.8 L2042.9 1248.3 L2050.5 1240.7 L2045.9 1234.6 L2035.4 1238.4 L2023.2 1245.2 L2014.2 1252.1 L2003.6 1253.6 L1999 1258.9 L2003.6 1265.7 L2013.4 1269.5 L2015.7 1274.8 L2023.2 1277 L2035.4 1271.7 L2042.9 1274 L2053.5 1274.8 L2055 1280.8 L2044.4 1282.3 L2036.9 1286.9 L2029.3 1289.9 L2021.7 1294.4 L2017.2 1304.3 L2024.8 1308.1 L2029.3 1312.6 L2032.3 1321.7 L2036.9 1332.3 L2044.4 1339.9 L2047.5 1344.4 L2047.5 1350.5 L2041.4 1352.7 L2044.4 1356.5 L2050.5 1362.6 L2048.1 1362.7 L2046.3 1381 L2038.9 1382.9 L2031.6 1395.7 L2020.6 1412.2 L2009.6 1425.1 L1991.2 1439.8 L1980.2 1444.4 L1965.6 1446.2 L1960.1 1449.9 L1952.7 1450.8 L1936.2 1456.3 L1921.6 1461.8 L1921.6 1472.8 L1914.2 1472.8 L1910.6 1458.1 L1895.9 1458.1 L1879.4 1467.3 L1872 1472.8 L1864.7 1482 L1866.5 1491.1 L1872 1498.5 L1877.5 1507.7 L1888.5 1518.7 L1895.9 1526 L1903.2 1537 L1906.9 1555.4 L1905 1573.7 L1890.4 1582.9 L1879.4 1590.2 L1866.5 1601.2 L1860.1 1608.6 L1855.5 1593.9 L1848.2 1588.4 L1837.2 1579.2 L1829.9 1566.4 L1822.5 1560.9 L1813.4 1560.9 L1813.4 1553.5 L1804.2 1553.5 L1800.5 1564.5 L1796.8 1573.7 L1793.2 1592.1 L1795 1601.2 L1800.5 1603.1 L1806 1612.2 L1811.5 1626.9 L1796.8 1626.9 L1783.1 1617.7 L1784 1599.4 L1785.8 1582.9 L1787.7 1564.5 L1784.9 1549.9 L1780.3 1540.7 L1774.8 1522.3 L1769.3 1511.3 L1750.1 1526.9 L1738.3 1524.2 L1742 1509.5 L1738.3 1494.8 L1732.8 1480.1 L1727.3 1478.3 L1716.3 1465.5 L1710.8 1452.6 L1705.3 1445.3 L1696.1 1445.3 L1693.4 1455.4 L1690.6 1454.4 L1680.5 1457.2 L1677.8 1454.4 L1657.6 1459.9 L1656.7 1468.2 L1652.1 1474.6 L1635.6 1483.8 L1619.1 1500.3 L1604.4 1509.5 L1603.5 1516.8 L1593.4 1520.5 L1582.4 1525.1 M1540.2 1604.9 L1537.5 1592.1 L1531.1 1573.7 L1521.9 1557.2 L1516.4 1540.7 L1506.3 1524.2 L1503.6 1507.7 L1499.9 1487.5 L1498 1472.8 L1496.2 1461.8 L1490.7 1462.7 L1479.7 1468.2 L1471.5 1466.4 L1464.1 1455.4 L1457.7 1452.6 L1461.4 1447.5 L1456.8 1441.6 L1448.5 1435.2 M2204.8 1320.9 L2198 1317.1 L2195.7 1309.6 L2182.1 1311.9 L2162.4 1317.1 L2151.1 1317.1 L2148.8 1312.6 L2148.8 1312.6 L2160.9 1305 L2171.5 1299 M2133.7 1323.2 L2142.8 1320.9 L2150.3 1317.1 L2160.9 1324 L2156.4 1333.8 L2154.9 1342.9 L2147.3 1349.7 L2142 1345.9 L2142.8 1333.8 L2137.5 1330.8Z M2166.2 1320.2 L2171.5 1317.1 L2180.6 1315.6 L2187.4 1312.6 L2191.2 1315.6 L2189.7 1320.2 L2186.7 1324.7 L2177.6 1321.7 L2173 1330 L2167.7 1327.7Z M1899.5 1482 L1906.9 1477.4 L1921.6 1476.1 L1926.1 1480.1 L1919.7 1493 L1908.7 1498.5 L1899.5 1494.8Z M2027.9 1436.1 L2031.6 1423.3 L2042.6 1415.9 L2048.1 1419.6 L2044.4 1432.4 L2035.3 1454.4 L2029.8 1443.4Z M2033.4 1496.6 L2042.6 1494.8 L2051.8 1495.7 L2053.6 1502.1 L2052.7 1518.7 L2044.4 1522.3 L2042.6 1535.2 L2046.3 1541.6 L2055.4 1543.4 L2066.4 1548 L2071.9 1555.4 L2074.7 1562.7 L2084.8 1562.7 L2092.1 1581 L2084.8 1579.2 L2082.9 1590.2 L2077.4 1575.5 L2073.8 1562.7 L2066.4 1557.2 L2060.9 1553.5 L2057.3 1549.9 L2038.9 1549.9 L2033.4 1544.4 L2027.9 1538.8 L2026.1 1522.3 L2031.6 1509.5Z M2030.7 1551.7 L2038.9 1553.5 L2041.7 1566.4Z M2048.1 1570 L2061.9 1575.5 L2058.2 1585.6 L2071.9 1578.3 L2068.3 1592.1 L2060.9 1603.1 L2055.4 1593.9 L2049 1586.6Z M2086.6 1643.4 L2075.6 1637.9 L2071.9 1626.9 L2068.3 1617.7 L2060.9 1621.4 L2049.9 1626.9 L2053.6 1617.7 L2064.6 1608.6" fill="none" stroke="#f70c34" stroke-width="8" stroke-dasharray="10 8"/>
<circle cx="2251" cy="1290.1" r="4" fill="#f70c34"/>
<path d="M1355 1415.9 L1372.4 1418.1 L1404.5 1415.9 L1425.6 1414.4 L1435.7 1426.9 L1439.4 1432.1 L1448.5 1435.2 L1456.8 1441.6 L1461.4 1447.5 L1457.7 1452.6 L1464.1 1455.4 L1471.5 1466.4 L1479.7 1468.2 L1490.7 1462.7 L1496.2 1461.8 L1498 1472.8 L1499.9 1487.5 L1503.6 1507.7 L1506.3 1524.2 L1516.4 1540.7 L1521.9 1557.2 L1531.1 1573.7 L1537.5 1592.1 L1540.2 1604.9 L1551.2 1616.8 L1558.6 1604.9 L1568.7 1601.2 L1567.7 1597.6 L1572.3 1590.2 L1577.8 1588.4 L1577.8 1568.2 L1582.4 1557.2 L1580.6 1538.8 L1582.4 1525.1 L1593.4 1520.5 L1603.5 1516.8 L1604.4 1509.5 L1619.1 1500.3 L1635.6 1483.8 L1652.1 1474.6 L1656.7 1468.2 L1657.6 1459.9 L1677.8 1454.4 L1680.5 1457.2 L1690.6 1454.4 L1693.4 1455.4 L1696.1 1445.3 L1705.3 1445.3 L1710.8 1452.6 L1716.3 1465.5 L1727.3 1478.3 L1732.8 1480.1 L1738.3 1494.8 L1742 1509.5 L1738.3 1524.2 L1750.1 1526.9 L1769.3 1511.3 L1774.8 1522.3 L1780.3 1540.7 L1784.9 1549.9 L1787.7 1564.5 L1785.8 1582.9 L1784 1599.4 L1783.1 1617.7 L1796.8 1626.9 L1806 1643.4 L1809.7 1663.6 L1817 1674.8 L1829.9 1684 L1841.8 1694.1 L1850 1693.2 L1848.2 1685.8 L1841.8 1671.1 L1840.9 1663.6 L1839 1650.8 L1831.7 1637.9 L1818.9 1629.7 L1811.5 1626.9 L1806 1612.2 L1800.5 1603.1 L1795 1601.2 L1793.2 1592.1 L1796.8 1573.7 L1800.5 1564.5 L1804.2 1553.5 L1813.4 1553.5 L1813.4 1560.9 L1822.5 1560.9 L1829.9 1566.4 L1837.2 1579.2 L1848.2 1588.4 L1855.5 1593.9 L1860.1 1608.6 L1866.5 1601.2 L1879.4 1590.2 L1890.4 1582.9 L1905 1573.7 L1906.9 1555.4 L1903.2 1537 L1895.9 1526 L1888.5 1518.7 L1877.5 1507.7 L1872 1498.5 L1866.5 1491.1 L1864.7 1482 L1872 1472.8 L1879.4 1467.3 L1895.9 1458.1 L1910.6 1458.1 L1914.2 1472.8 L1921.6 1472.8 L1921.6 1461.8 L1936.2 1456.3 L1952.7 1450.8 L1960.1 1449.9 L1965.6 1446.2 L1980.2 1444.4 L1991.2 1439.8 L2009.6 1425.1 L2020.6 1412.2 L2031.6 1395.7 L2038.9 1382.9 L2046.3 1381 L2048.1 1362.7 L2050.5 1362.6 L2044.4 1356.5 L2041.4 1352.7 L2047.5 1350.5 L2047.5 1344.4 L2044.4 1339.9 L2036.9 1332.3 L2032.3 1321.7 L2029.3 1312.6 L2024.8 1308.1 L2017.2 1304.3 L2021.7 1294.4 L2029.3 1289.9 L2036.9 1286.9 L2044.4 1282.3 L2055 1280.8 L2053.5 1274.8 L2042.9 1274 L2035.4 1271.7 L2023.2 1277 L2015.7 1274.8 L2013.4 1269.5 L2003.6 1265.7 L1999 1258.9 L2003.6 1253.6 L2014.2 1252.1 L2023.2 1245.2 L2035.4 1238.4 L2045.9 1234.6 L2050.5 1240.7 L2042.9 1248.3 L2043.7 1252.8 L2038.4 1258.1 L2050.5 1252.8 L2062.6 1249 L2074.7 1246.8 L2079.2 1249 L2086.8 1251.3 L2088.3 1258.1 L2085.3 1259.6 L2083.8 1264.2 L2081.5 1267.2 L2085.3 1269.5 L2086.8 1272.5 L2091.3 1268.7 L2098.9 1271 L2100.4 1276.3 L2104.2 1281.6 L2096.6 1283.1 L2098.9 1288.4 L2098.1 1297.5 L2099.7 1310.3 L2104.9 1309.6 L2111 1306.6 L2123.1 1302.8 L2129.2 1303.5 L2133.7 1297.5 L2133.7 1286.9 L2130.7 1276.3 L2124.6 1267.2 L2114 1256.6 L2111 1252.8 L2112.3 1246.4 L2124.4 1241.9 L2135 1234.3 L2136.5 1225.2 L2148.6 1216.1 L2164.5 1207.8 L2172.8 1212.4 L2178.9 1212.4 L2194 1205.5 L2210.6 1188.9 L2236.4 1163.9 L2253 1148 L2256 1131.4 L2258.3 1115.5 L2266.6 1101.1 L2266.6 1094.3 L2260.6 1090.5 L2250 1081.4 L2237.9 1080.7 L2230.3 1086 L2221.2 1083.7 L2214.4 1076.9 L2197 1075.1 L2275.7 1025.1 L2312 1020.9 L2346.8 1023.1 L2361.9 1016.3 L2366.5 1016 M1580.6 1594.8 L1589.7 1603.1 L1598.9 1621.4 L1597.1 1634.3 L1583.3 1639.8 L1576.9 1626.9 L1575.1 1614.1 L1577.8 1601.2Z M1899.5 1482 L1906.9 1477.4 L1921.6 1476.1 L1926.1 1480.1 L1919.7 1493 L1908.7 1498.5 L1899.5 1494.8Z M2027.9 1436.1 L2031.6 1423.3 L2042.6 1415.9 L2048.1 1419.6 L2044.4 1432.4 L2035.3 1454.4 L2029.8 1443.4Z M2033.4 1496.6 L2042.6 1494.8 L2051.8 1495.7 L2053.6 1502.1 L2052.7 1518.7 L2044.4 1522.3 L2042.6 1535.2 L2046.3 1541.6 L2055.4 1543.4 L2066.4 1548 L2071.9 1555.4 L2074.7 1562.7 L2084.8 1562.7 L2092.1 1581 L2084.8 1579.2 L2082.9 1590.2 L2077.4 1575.5 L2073.8 1562.7 L2066.4 1557.2 L2060.9 1553.5 L2057.3 1549.9 L2038.9 1549.9 L2033.4 1544.4 L2027.9 1538.8 L2026.1 1522.3 L2031.6 1509.5Z M2030.7 1551.7 L2038.9 1553.5 L2041.7 1566.4Z M1994.9 1612.2 L2020.6 1576.5 L2023.3 1587.5Z M2048.1 1570 L2061.9 1575.5 L2058.2 1585.6 L2071.9 1578.3 L2068.3 1592.1 L2060.9 1603.1 L2055.4 1593.9 L2049 1586.6Z M2075.6 1575.5 L2084.8 1590.2 L2086.6 1579.2Z M2049.9 1626.9 L2053.6 1617.7 L2064.6 1608.6 L2070.1 1612.2 L2079.3 1606.7 L2082.9 1599.4 L2088.4 1595.7 L2097.6 1601.2 L2101.3 1623.3 L2097.6 1636.1 L2092.1 1628.8 L2086.6 1643.4 L2075.6 1637.9 L2071.9 1626.9 L2068.3 1617.7 L2060.9 1621.4Z M1750.1 1645.5 L1773 1648.2 L1787.7 1662 L1809.7 1684 L1818.9 1684.9 L1829.9 1693.2 L1845.4 1708.8 L1845.4 1710.6 L1795 1710.6 L1789.5 1693.2 L1774.8 1680.3 L1767.5 1669.3 L1752.8 1651Z M1903.2 1710.6 L1903.2 1698.7 L1910.6 1685.8 L1919.7 1689.5 L1927.1 1687.7 L1930.7 1677.6 L1949.1 1673 L1958.2 1662 L1976.6 1645.5 L1989.4 1628.9 L1994.9 1628 L2000.4 1638.1 L2016.9 1645.5 L2016.9 1649.1 L2011.4 1651 L2009.6 1655.5 L2004.1 1658.3 L1996.7 1671.1 L2004.1 1682.1 L2005 1687.7 L2008.7 1695 L2015.1 1698.7 L2004.1 1700.5 L1998.6 1710.6Z M2025.2 1710.6 L2026.1 1704.2 L2037.1 1694.1 L2060.9 1698.7 L2077.4 1695 L2084.8 1690.4 L2085.7 1693.2 L2077.4 1702.3 L2064.6 1706 L2042.6 1704.5 L2029.8 1706 L2027.9 1710.6Z M2112.5 1710.8 L2109.9 1696.7 L2116 1683.5 L2117.8 1690.6 L2124.8 1692.3 L2124.8 1705.5 L2117.8 1706.4 L2115.2 1710.8Z M2276.4 1080.7 L2281 1079.1 L2287.8 1093.5 L2290.8 1108.7 L2296.9 1126.8 L2303.7 1142 L2287.8 1139.7 L2280.2 1155.6 L2290.8 1166.2 L2290.8 1173.8 L2281.7 1166.9 L2274.2 1176 L2272.7 1160.1 L2273.4 1145 L2274.9 1120.8 L2269.6 1107.1 L2269.6 1092 L2280.2 1086.7Z M2273.4 1181.3 L2281.7 1188.9 L2293.8 1196.5 L2302.9 1199.5 L2310.5 1194.2 L2313.5 1207.1 L2299.9 1209.3 L2287.8 1220.7 L2269.6 1216.1 L2263.6 1225.2 L2251.5 1226 L2249.2 1216.1 L2254.5 1206.3 L2266.6 1205.5 L2269.6 1194.9Z M2250.2 1232.4 L2266.1 1230.1 L2272.1 1246 L2272.9 1255.8 L2262.3 1265.7 L2262.3 1280.8 L2260 1294.4 L2254 1302.8 L2241.1 1307.3 L2218.4 1307.3 L2204.8 1320.9 L2198 1317.1 L2195.7 1309.6 L2182.1 1311.9 L2162.4 1317.1 L2151.1 1317.1 L2148.8 1312.6 L2160.9 1305 L2171.5 1299 L2191.2 1295.2 L2202.5 1296.7 L2214.6 1277 L2222.2 1282.3 L2245.7 1265.7 L2256.3 1250.5 L2251 1239.9Z M2133.7 1323.2 L2142.8 1320.9 L2150.3 1317.1 L2160.9 1324 L2156.4 1333.8 L2154.9 1342.9 L2147.3 1349.7 L2142 1345.9 L2142.8 1333.8 L2137.5 1330.8Z M2166.2 1320.2 L2171.5 1317.1 L2180.6 1315.6 L2187.4 1312.6 L2191.2 1315.6 L2189.7 1320.2 L2186.7 1324.7 L2177.6 1321.7 L2173 1330 L2167.7 1327.7Z" fill="none" stroke="#000" stroke-width="2" stroke-linejoin="round"/>
</g>
<path d="M1355 1710.1H2364.3V1013.9" fill="none" stroke="#000" stroke-width="2"/>
<path d="M1355 1711.1V1013.9H2365.3" fill="none" stroke="#000" stroke-width="3.6"/>
<text x="1338.5" y="1030.4" text-anchor="end" class="tl">60°N</text>
<text x="1338.5" y="1204.5" text-anchor="end" class="tl">45°N</text>
<text x="1338.5" y="1378.5" text-anchor="end" class="tl">30°N</text>
<text x="1338.5" y="1552.6" text-anchor="end" class="tl">15°N</text>
<text x="1338.5" y="1726.6" text-anchor="end" class="tl">0°</text>
<text x="1355" y="1759.6" text-anchor="middle" class="tl">60°E</text>
<text x="1691.4" y="1759.6" text-anchor="middle" class="tl">90°E</text>
<text x="2027.9" y="1759.6" text-anchor="middle" class="tl">120°E</text>
<text x="2364.3" y="1759.6" text-anchor="middle" class="tl">150°E</text>
<path d="M1345.5 1013.9H1355 M1345.5 1188H1355 M1345.5 1362H1355 M1345.5 1536.1H1355 M1345.5 1710.1H1355 M1355 1710.1V1719.6 M1691.4 1710.1V1719.6 M2027.9 1710.1V1719.6 M2364.3 1710.1V1719.6" stroke="#000" stroke-width="2"/>
<text x="1355.5" y="1002.2" class="tt">(d) AOD</text>
<path d="M305.5 854.7 L271 873.1 L305.5 891.4Z" fill="#aed6e8"/>
<path d="M993.2 854.7 L1027.7 873.1 L993.2 891.4Z" fill="#6a0018"/>
<rect x="305.5" y="854.7" width="69.4" height="36.7" fill="#cde3ef"/>
<rect x="374.3" y="854.7" width="69.4" height="36.7" fill="#e8eff4"/>
<rect x="443" y="854.7" width="69.4" height="36.7" fill="#fcede6"/>
<rect x="511.8" y="854.7" width="69.4" height="36.7" fill="#fddbc9"/>
<rect x="580.6" y="854.7" width="69.4" height="36.7" fill="#fcbba0"/>
<rect x="649.4" y="854.7" width="69.4" height="36.7" fill="#fb9676"/>
<rect x="718.1" y="854.7" width="69.4" height="36.7" fill="#f6694f"/>
<rect x="786.9" y="854.7" width="69.4" height="36.7" fill="#e33b36"/>
<rect x="855.7" y="854.7" width="69.4" height="36.7" fill="#c8112a"/>
<rect x="924.4" y="854.7" width="69.4" height="36.7" fill="#930a21"/>
<path d="M374.3 854.7V891.4 M443 854.7V891.4 M511.8 854.7V891.4 M580.6 854.7V891.4 M649.4 854.7V891.4 M718.1 854.7V891.4 M786.9 854.7V891.4 M855.7 854.7V891.4 M924.4 854.7V891.4" stroke="#000" stroke-width="2"/>
<text x="305.5" y="931.4" text-anchor="middle" class="tl">−4</text>
<text x="443" y="931.4" text-anchor="middle" class="tl">0</text>
<text x="580.6" y="931.4" text-anchor="middle" class="tl">4</text>
<text x="718.1" y="931.4" text-anchor="middle" class="tl">8</text>
<text x="855.7" y="931.4" text-anchor="middle" class="tl">12</text>
<text x="993.2" y="931.4" text-anchor="middle" class="tl">16</text>
<path d="M305.5 891.4V880.4 M443 891.4V880.4 M580.6 891.4V880.4 M718.1 891.4V880.4 M855.7 891.4V880.4 M993.2 891.4V880.4" stroke="#000" stroke-width="1.5"/>
<path d="M305.5 854.7 L271 873.1 L305.5 891.4 H993.2 L1027.7 873.1 L993.2 854.7Z" fill="none" stroke="#000" stroke-width="3.6" stroke-linejoin="miter"/>
<path d="M1515.8 854.7 L1481.3 873.1 L1515.8 891.4Z" fill="#08306b"/>
<path d="M2203.5 854.7 L2238 873.1 L2203.5 891.4Z" fill="#fdd2bd"/>
<rect x="1515.8" y="854.7" width="57.9" height="36.7" fill="#06376e"/>
<rect x="1573.1" y="854.7" width="57.9" height="36.7" fill="#03518f"/>
<rect x="1630.4" y="854.7" width="57.9" height="36.7" fill="#0570b2"/>
<rect x="1687.7" y="854.7" width="57.9" height="36.7" fill="#0688c0"/>
<rect x="1745" y="854.7" width="57.9" height="36.7" fill="#03a3d2"/>
<rect x="1802.3" y="854.7" width="57.9" height="36.7" fill="#5ab9da"/>
<rect x="1859.7" y="854.7" width="57.9" height="36.7" fill="#8ccde4"/>
<rect x="1917" y="854.7" width="57.9" height="36.7" fill="#b9dfee"/>
<rect x="1974.3" y="854.7" width="57.9" height="36.7" fill="#d8eaf3"/>
<rect x="2031.6" y="854.7" width="57.9" height="36.7" fill="#edf2f6"/>
<rect x="2088.9" y="854.7" width="57.9" height="36.7" fill="#fcefea"/>
<rect x="2146.2" y="854.7" width="57.9" height="36.7" fill="#fddbc9"/>
<path d="M1573.1 854.7V891.4 M1630.4 854.7V891.4 M1687.7 854.7V891.4 M1745 854.7V891.4 M1802.3 854.7V891.4 M1859.7 854.7V891.4 M1917 854.7V891.4 M1974.3 854.7V891.4 M2031.6 854.7V891.4 M2088.9 854.7V891.4 M2146.2 854.7V891.4" stroke="#000" stroke-width="2"/>
<text x="1515.8" y="931.4" text-anchor="middle" class="tl">−50</text>
<text x="1630.4" y="931.4" text-anchor="middle" class="tl">−40</text>
<text x="1745" y="931.4" text-anchor="middle" class="tl">−30</text>
<text x="1859.7" y="931.4" text-anchor="middle" class="tl">−20</text>
<text x="1974.3" y="931.4" text-anchor="middle" class="tl">−10</text>
<text x="2088.9" y="931.4" text-anchor="middle" class="tl">0</text>
<text x="2203.5" y="931.4" text-anchor="middle" class="tl">10</text>
<path d="M1515.8 891.4V880.4 M1630.4 891.4V880.4 M1745 891.4V880.4 M1859.7 891.4V880.4 M1974.3 891.4V880.4 M2088.9 891.4V880.4 M2203.5 891.4V880.4" stroke="#000" stroke-width="1.5"/>
<path d="M1515.8 854.7 L1481.3 873.1 L1515.8 891.4 H2203.5 L2238 873.1 L2203.5 854.7Z" fill="none" stroke="#000" stroke-width="3.6" stroke-linejoin="miter"/>
<path d="M305.5 1797.4 L271 1815.8 L305.5 1834.1Z" fill="#08306b"/>
<path d="M993.2 1797.4 L1027.7 1815.8 L993.2 1834.1Z" fill="#fdd2bd"/>
<rect x="305.5" y="1797.4" width="57.9" height="36.7" fill="#06376e"/>
<rect x="362.8" y="1797.4" width="57.9" height="36.7" fill="#03518f"/>
<rect x="420.1" y="1797.4" width="57.9" height="36.7" fill="#0570b2"/>
<rect x="477.4" y="1797.4" width="57.9" height="36.7" fill="#0688c0"/>
<rect x="534.7" y="1797.4" width="57.9" height="36.7" fill="#03a3d2"/>
<rect x="592" y="1797.4" width="57.9" height="36.7" fill="#5ab9da"/>
<rect x="649.4" y="1797.4" width="57.9" height="36.7" fill="#8ccde4"/>
<rect x="706.7" y="1797.4" width="57.9" height="36.7" fill="#b9dfee"/>
<rect x="764" y="1797.4" width="57.9" height="36.7" fill="#d8eaf3"/>
<rect x="821.3" y="1797.4" width="57.9" height="36.7" fill="#edf2f6"/>
<rect x="878.6" y="1797.4" width="57.9" height="36.7" fill="#fcefea"/>
<rect x="935.9" y="1797.4" width="57.9" height="36.7" fill="#fddbc9"/>
<path d="M362.8 1797.4V1834.1 M420.1 1797.4V1834.1 M477.4 1797.4V1834.1 M534.7 1797.4V1834.1 M592 1797.4V1834.1 M649.4 1797.4V1834.1 M706.7 1797.4V1834.1 M764 1797.4V1834.1 M821.3 1797.4V1834.1 M878.6 1797.4V1834.1 M935.9 1797.4V1834.1" stroke="#000" stroke-width="2"/>
<text x="305.5" y="1874.1" text-anchor="middle" class="tl">−50</text>
<text x="420.1" y="1874.1" text-anchor="middle" class="tl">−40</text>
<text x="534.7" y="1874.1" text-anchor="middle" class="tl">−30</text>
<text x="649.4" y="1874.1" text-anchor="middle" class="tl">−20</text>
<text x="764" y="1874.1" text-anchor="middle" class="tl">−10</text>
<text x="878.6" y="1874.1" text-anchor="middle" class="tl">0</text>
<text x="993.2" y="1874.1" text-anchor="middle" class="tl">10</text>
<path d="M305.5 1834.1V1823.1 M420.1 1834.1V1823.1 M534.7 1834.1V1823.1 M649.4 1834.1V1823.1 M764 1834.1V1823.1 M878.6 1834.1V1823.1 M993.2 1834.1V1823.1" stroke="#000" stroke-width="1.5"/>
<path d="M305.5 1797.4 L271 1815.8 L305.5 1834.1 H993.2 L1027.7 1815.8 L993.2 1797.4Z" fill="none" stroke="#000" stroke-width="3.6" stroke-linejoin="miter"/>
<path d="M1515.8 1797.4 L1481.3 1815.8 L1515.8 1834.1Z" fill="#fcfbfd"/>
<path d="M2203.5 1797.4 L2238 1815.8 L2203.5 1834.1Z" fill="#3f007d"/>
<rect x="1515.8" y="1797.4" width="46.4" height="36.7" fill="#f9f7fb"/>
<rect x="1561.6" y="1797.4" width="46.4" height="36.7" fill="#f2f0f7"/>
<rect x="1607.5" y="1797.4" width="46.4" height="36.7" fill="#e8e7f2"/>
<rect x="1653.3" y="1797.4" width="46.4" height="36.7" fill="#ddddec"/>
<rect x="1699.2" y="1797.4" width="46.4" height="36.7" fill="#cecfe5"/>
<rect x="1745" y="1797.4" width="46.4" height="36.7" fill="#bebfdd"/>
<rect x="1790.9" y="1797.4" width="46.4" height="36.7" fill="#aeadd3"/>
<rect x="1836.7" y="1797.4" width="46.4" height="36.7" fill="#9e9ac8"/>
<rect x="1882.6" y="1797.4" width="46.4" height="36.7" fill="#8e8ac0"/>
<rect x="1928.4" y="1797.4" width="46.4" height="36.7" fill="#7e79b8"/>
<rect x="1974.3" y="1797.4" width="46.4" height="36.7" fill="#7262ac"/>
<rect x="2020.1" y="1797.4" width="46.4" height="36.7" fill="#674ba0"/>
<rect x="2066" y="1797.4" width="46.4" height="36.7" fill="#5b3495"/>
<rect x="2111.8" y="1797.4" width="46.4" height="36.7" fill="#4f1f8b"/>
<rect x="2157.7" y="1797.4" width="46.4" height="36.7" fill="#440a82"/>
<path d="M1561.6 1797.4V1834.1 M1607.5 1797.4V1834.1 M1653.3 1797.4V1834.1 M1699.2 1797.4V1834.1 M1745 1797.4V1834.1 M1790.9 1797.4V1834.1 M1836.7 1797.4V1834.1 M1882.6 1797.4V1834.1 M1928.4 1797.4V1834.1 M1974.3 1797.4V1834.1 M2020.1 1797.4V1834.1 M2066 1797.4V1834.1 M2111.8 1797.4V1834.1 M2157.7 1797.4V1834.1" stroke="#000" stroke-width="2"/>
<text x="1515.8" y="1874.1" text-anchor="middle" class="tl">0.0</text>
<text x="1745" y="1874.1" text-anchor="middle" class="tl">0.5</text>
<text x="1974.3" y="1874.1" text-anchor="middle" class="tl">1.0</text>
<text x="2203.5" y="1874.1" text-anchor="middle" class="tl">1.5</text>
<path d="M1515.8 1834.1V1823.1 M1745 1834.1V1823.1 M1974.3 1834.1V1823.1 M2203.5 1834.1V1823.1" stroke="#000" stroke-width="1.5"/>
<path d="M1515.8 1797.4 L1481.3 1815.8 L1515.8 1834.1 H2203.5 L2238 1815.8 L2203.5 1797.4Z" fill="none" stroke="#000" stroke-width="3.6" stroke-linejoin="miter"/>
</svg>
</body></html>
